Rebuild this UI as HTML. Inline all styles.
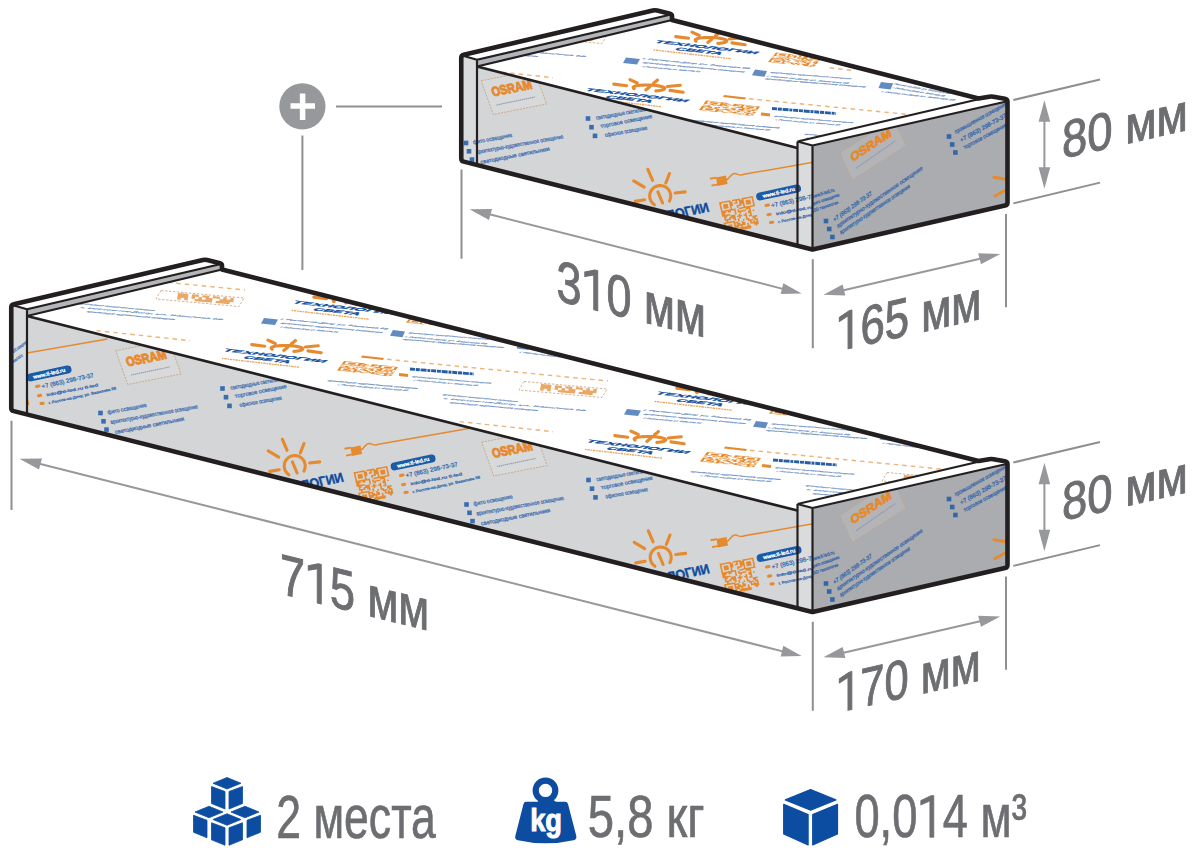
<!DOCTYPE html>
<html><head><meta charset="utf-8"><style>
html,body{margin:0;padding:0;background:#fff;width:1200px;height:856px;overflow:hidden}
svg{display:block}
</style></head><body>
<svg width="1200" height="856" viewBox="0 0 1200 856" font-family="Liberation Sans, sans-serif">
<defs><g id="ft"><polygon points="481.25,80.75 534.50,70.25 546.50,104.00 493.25,114.50" fill="#fff" fill-opacity="0.1" stroke="#c9a47e" stroke-width="0.9" stroke-dasharray="2 1.2" stroke-linejoin="round"/><text transform="matrix(1.0578,-0.2128,0.4061,1.3510,493.00,96.50)" font-size="9.5" font-weight="bold" fill="#e58a2f" stroke="#e58a2f" stroke-width="0.7" textLength="37.8" lengthAdjust="spacingAndGlyphs" opacity="1">OSRAM</text><path d="M496.50,105.00L535.00,97.00" stroke="#8d96a6" stroke-width="1.1" stroke-dasharray="1.5 0.5" opacity="0.9"/><rect x="585.70" y="116.20" width="4.6" height="4.6" fill="#1f5aa8" opacity="0.85"/><rect x="589.20" y="124.90" width="4.6" height="4.6" fill="#1f5aa8" opacity="0.85"/><rect x="592.70" y="133.60" width="4.6" height="4.6" fill="#1f5aa8" opacity="0.85"/><text transform="matrix(0.9846,-0.1746,0.2878,0.9577,596.61,119.77)" font-size="5.85" fill="#1f5aa8" opacity="0.82" textLength="55.86" lengthAdjust="spacingAndGlyphs" stroke="#1f5aa8" stroke-width="0.3">светодиодные светильники</text><text transform="matrix(0.9817,-0.1906,0.2878,0.9577,601.11,128.02)" font-size="5.85" fill="#1f5aa8" opacity="0.82" textLength="52.46" lengthAdjust="spacingAndGlyphs" stroke="#1f5aa8" stroke-width="0.3">торговое освещение</text><text transform="matrix(0.9844,-0.1758,0.2878,0.9577,605.61,137.02)" font-size="5.85" fill="#1f5aa8" opacity="0.82" textLength="42.66" lengthAdjust="spacingAndGlyphs" stroke="#1f5aa8" stroke-width="0.3">офисное освещение</text><rect x="463.70" y="140.70" width="4.6" height="4.6" fill="#1f5aa8" opacity="0.85"/><rect x="466.70" y="149.00" width="4.6" height="4.6" fill="#1f5aa8" opacity="0.85"/><rect x="469.70" y="157.30" width="4.6" height="4.6" fill="#1f5aa8" opacity="0.85"/><text transform="matrix(0.9820,-0.1888,0.2878,0.9577,473.61,144.27)" font-size="5.85" fill="#1f5aa8" opacity="0.82" textLength="39.71" lengthAdjust="spacingAndGlyphs" stroke="#1f5aa8" stroke-width="0.3">фито освещение</text><text transform="matrix(0.9840,-0.1781,0.2878,0.9577,476.61,154.02)" font-size="5.85" fill="#1f5aa8" opacity="0.82" textLength="88.41" lengthAdjust="spacingAndGlyphs" stroke="#1f5aa8" stroke-width="0.3">архитектурно-художественное освещение</text><text transform="matrix(0.9814,-0.1920,0.2878,0.9577,481.11,164.02)" font-size="5.85" fill="#1f5aa8" opacity="0.82" textLength="70.31" lengthAdjust="spacingAndGlyphs" stroke="#1f5aa8" stroke-width="0.3">светодиодные светильники</text><path d="M654.42,204.77 L653.01,203.65 L651.81,202.31 L650.86,200.79 L650.18,199.12 L649.79,197.37 L649.71,195.57 L649.94,193.79 L650.46,192.07 L651.28,190.47 L652.35,189.03 L653.66,187.79 L655.15,186.79 L656.80,186.07 L658.54,185.63 L660.33,185.50 L662.12,185.68 L663.86,186.16 L665.48,186.93 L666.95,187.96 L668.23,189.23 L669.26,190.70 L670.03,192.32 L670.52,194.05 L670.70,195.84 L670.57,197.63 L670.14,199.38 L669.42,201.03 M633.70,180.90L644.20,187.20 M647.90,169.30L652.60,180.40 M669.50,173.50L665.80,183.00 M675.20,193.00L685.20,191.90 M635.30,201.40L644.70,199.80 M657.90,191.90L662.60,203.00" fill="none" stroke="#e58a2f" stroke-width="3.1" stroke-linecap="round" stroke-linejoin="round"/><text transform="matrix(1.0578,-0.2128,0.4061,1.3510,626.50,228.30)" font-size="9.5" font-weight="bold" fill="#0f4c9c" stroke="#0f4c9c" stroke-width="0.3" textLength="79" lengthAdjust="spacingAndGlyphs" opacity="1">ТЕХНОЛОГИИ</text><polygon points="716.00,177.50 726.00,175.50 727.50,184.00 717.50,186.00" fill="#e58a2f"/><path d="M710,178.8L716.5,177.6M711.5,185.6L718,184.4" stroke="#e58a2f" stroke-width="1.9"/><path d="M726,180 C730,179 731,172.5 735,173.5 C739,174.5 740,176 744,174.3 L837,158" stroke="#e58a2f" stroke-width="1.5" fill="none"/><path d="M719.00,202.30L720.61,202.00L720.93,203.46L719.32,203.76ZM720.61,202.00L722.22,201.70L722.54,203.16L720.93,203.46ZM722.22,201.70L723.83,201.40L724.15,202.86L722.54,203.16ZM723.83,201.40L725.44,201.10L725.76,202.56L724.15,202.86ZM725.44,201.10L727.05,200.80L727.37,202.26L725.76,202.56ZM727.05,200.80L728.66,200.50L728.98,201.96L727.37,202.26ZM728.66,200.50L730.27,200.20L730.59,201.66L728.98,201.96ZM731.88,199.90L733.49,199.60L733.81,201.06L732.20,201.36ZM733.49,199.60L735.10,199.30L735.42,200.76L733.81,201.06ZM735.10,199.30L736.70,199.00L737.03,200.46L735.42,200.76ZM736.70,199.00L738.31,198.70L738.64,200.16L737.03,200.46ZM738.31,198.70L739.92,198.40L740.25,199.86L738.64,200.16ZM741.53,198.10L743.14,197.80L743.47,199.26L741.86,199.56ZM743.14,197.80L744.75,197.50L745.08,198.96L743.47,199.26ZM744.75,197.50L746.36,197.20L746.69,198.66L745.08,198.96ZM746.36,197.20L747.97,196.90L748.30,198.36L746.69,198.66ZM747.97,196.90L749.58,196.60L749.90,198.06L748.30,198.36ZM749.58,196.60L751.19,196.30L751.51,197.76L749.90,198.06ZM751.19,196.30L752.80,196.00L753.12,197.46L751.51,197.76ZM719.32,203.76L720.93,203.46L721.26,204.92L719.65,205.22ZM728.98,201.96L730.59,201.66L730.91,203.12L729.30,203.42ZM730.59,201.66L732.20,201.36L732.52,202.82L730.91,203.12ZM735.42,200.76L737.03,200.46L737.35,201.92L735.74,202.22ZM738.64,200.16L740.25,199.86L740.57,201.32L738.96,201.62ZM740.25,199.86L741.86,199.56L742.18,201.02L740.57,201.32ZM741.86,199.56L743.47,199.26L743.79,200.72L742.18,201.02ZM751.51,197.76L753.12,197.46L753.45,198.92L751.84,199.22ZM719.65,205.22L721.26,204.92L721.58,206.39L719.97,206.69ZM722.87,204.62L724.48,204.32L724.80,205.79L723.19,206.09ZM724.48,204.32L726.09,204.02L726.41,205.49L724.80,205.79ZM726.09,204.02L727.70,203.72L728.02,205.19L726.41,205.49ZM729.30,203.42L730.91,203.12L731.24,204.59L729.63,204.89ZM730.91,203.12L732.52,202.82L732.85,204.29L731.24,204.59ZM734.13,202.52L735.74,202.22L736.07,203.69L734.46,203.99ZM735.74,202.22L737.35,201.92L737.68,203.39L736.07,203.69ZM738.96,201.62L740.57,201.32L740.90,202.79L739.29,203.09ZM740.57,201.32L742.18,201.02L742.50,202.49L740.90,202.79ZM742.18,201.02L743.79,200.72L744.11,202.19L742.50,202.49ZM745.40,200.42L747.01,200.12L747.33,201.59L745.72,201.89ZM747.01,200.12L748.62,199.82L748.94,201.29L747.33,201.59ZM748.62,199.82L750.23,199.52L750.55,200.99L748.94,201.29ZM751.84,199.22L753.45,198.92L753.77,200.39L752.16,200.69ZM719.97,206.69L721.58,206.39L721.90,207.85L720.30,208.15ZM723.19,206.09L724.80,205.79L725.12,207.25L723.51,207.55ZM724.80,205.79L726.41,205.49L726.73,206.95L725.12,207.25ZM726.41,205.49L728.02,205.19L728.34,206.65L726.73,206.95ZM729.63,204.89L731.24,204.59L731.56,206.05L729.95,206.35ZM731.24,204.59L732.85,204.29L733.17,205.75L731.56,206.05ZM739.29,203.09L740.90,202.79L741.22,204.25L739.61,204.55ZM740.90,202.79L742.50,202.49L742.83,203.95L741.22,204.25ZM742.50,202.49L744.11,202.19L744.44,203.65L742.83,203.95ZM745.72,201.89L747.33,201.59L747.66,203.05L746.05,203.35ZM747.33,201.59L748.94,201.29L749.27,202.75L747.66,203.05ZM748.94,201.29L750.55,200.99L750.88,202.45L749.27,202.75ZM752.16,200.69L753.77,200.39L754.10,201.85L752.49,202.15ZM720.30,208.15L721.90,207.85L722.23,209.31L720.62,209.61ZM723.51,207.55L725.12,207.25L725.45,208.71L723.84,209.01ZM725.12,207.25L726.73,206.95L727.06,208.41L725.45,208.71ZM726.73,206.95L728.34,206.65L728.67,208.11L727.06,208.41ZM729.95,206.35L731.56,206.05L731.89,207.51L730.28,207.81ZM736.39,205.15L738.00,204.85L738.32,206.31L736.71,206.61ZM738.00,204.85L739.61,204.55L739.93,206.01L738.32,206.31ZM739.61,204.55L741.22,204.25L741.54,205.71L739.93,206.01ZM742.83,203.95L744.44,203.65L744.76,205.11L743.15,205.41ZM746.05,203.35L747.66,203.05L747.98,204.51L746.37,204.81ZM747.66,203.05L749.27,202.75L749.59,204.21L747.98,204.51ZM749.27,202.75L750.88,202.45L751.20,203.91L749.59,204.21ZM752.49,202.15L754.10,201.85L754.42,203.31L752.81,203.61ZM720.62,209.61L722.23,209.31L722.55,210.77L720.94,211.07ZM730.28,207.81L731.89,207.51L732.21,208.97L730.60,209.27ZM736.71,206.61L738.32,206.31L738.65,207.77L737.04,208.07ZM743.15,205.41L744.76,205.11L745.09,206.57L743.48,206.87ZM752.81,203.61L754.42,203.31L754.74,204.77L753.13,205.07ZM720.94,211.07L722.55,210.77L722.88,212.23L721.27,212.53ZM722.55,210.77L724.16,210.47L724.49,211.93L722.88,212.23ZM724.16,210.47L725.77,210.17L726.10,211.63L724.49,211.93ZM725.77,210.17L727.38,209.87L727.70,211.33L726.10,211.63ZM727.38,209.87L728.99,209.57L729.31,211.03L727.70,211.33ZM728.99,209.57L730.60,209.27L730.92,210.73L729.31,211.03ZM730.60,209.27L732.21,208.97L732.53,210.43L730.92,210.73ZM732.21,208.97L733.82,208.67L734.14,210.13L732.53,210.43ZM733.82,208.67L735.43,208.37L735.75,209.83L734.14,210.13ZM738.65,207.77L740.26,207.47L740.58,208.93L738.97,209.23ZM740.26,207.47L741.87,207.17L742.19,208.63L740.58,208.93ZM741.87,207.17L743.48,206.87L743.80,208.33L742.19,208.63ZM743.48,206.87L745.09,206.57L745.41,208.03L743.80,208.33ZM745.09,206.57L746.70,206.27L747.02,207.73L745.41,208.03ZM746.70,206.27L748.30,205.97L748.63,207.43L747.02,207.73ZM748.30,205.97L749.91,205.67L750.24,207.13L748.63,207.43ZM749.91,205.67L751.52,205.37L751.85,206.83L750.24,207.13ZM751.52,205.37L753.13,205.07L753.46,206.53L751.85,206.83ZM753.13,205.07L754.74,204.77L755.07,206.23L753.46,206.53ZM721.27,212.53L722.88,212.23L723.20,213.70L721.59,214.00ZM722.88,212.23L724.49,211.93L724.81,213.40L723.20,213.70ZM724.49,211.93L726.10,211.63L726.42,213.10L724.81,213.40ZM727.70,211.33L729.31,211.03L729.64,212.50L728.03,212.80ZM729.31,211.03L730.92,210.73L731.25,212.20L729.64,212.50ZM734.14,210.13L735.75,209.83L736.08,211.30L734.47,211.60ZM737.36,209.53L738.97,209.23L739.30,210.70L737.69,211.00ZM745.41,208.03L747.02,207.73L747.34,209.20L745.73,209.50ZM747.02,207.73L748.63,207.43L748.95,208.90L747.34,209.20ZM748.63,207.43L750.24,207.13L750.56,208.60L748.95,208.90ZM721.59,214.00L723.20,213.70L723.52,215.16L721.91,215.46ZM723.20,213.70L724.81,213.40L725.13,214.86L723.52,215.16ZM734.47,211.60L736.08,211.30L736.40,212.76L734.79,213.06ZM737.69,211.00L739.30,210.70L739.62,212.16L738.01,212.46ZM739.30,210.70L740.90,210.40L741.23,211.86L739.62,212.16ZM740.90,210.40L742.51,210.10L742.84,211.56L741.23,211.86ZM742.51,210.10L744.12,209.80L744.45,211.26L742.84,211.56ZM744.12,209.80L745.73,209.50L746.06,210.96L744.45,211.26ZM748.95,208.90L750.56,208.60L750.89,210.06L749.28,210.36ZM721.91,215.46L723.52,215.16L723.85,216.62L722.24,216.92ZM723.52,215.16L725.13,214.86L725.46,216.32L723.85,216.62ZM725.13,214.86L726.74,214.56L727.07,216.02L725.46,216.32ZM726.74,214.56L728.35,214.26L728.68,215.72L727.07,216.02ZM728.35,214.26L729.96,213.96L730.29,215.42L728.68,215.72ZM734.79,213.06L736.40,212.76L736.72,214.22L735.11,214.52ZM739.62,212.16L741.23,211.86L741.55,213.32L739.94,213.62ZM747.67,210.66L749.28,210.36L749.60,211.82L747.99,212.12ZM749.28,210.36L750.89,210.06L751.21,211.52L749.60,211.82ZM752.50,209.76L754.10,209.46L754.43,210.92L752.82,211.22ZM723.85,216.62L725.46,216.32L725.78,217.78L724.17,218.08ZM725.46,216.32L727.07,216.02L727.39,217.48L725.78,217.78ZM730.29,215.42L731.90,215.12L732.22,216.58L730.61,216.88ZM731.90,215.12L733.50,214.82L733.83,216.28L732.22,216.58ZM733.50,214.82L735.11,214.52L735.44,215.98L733.83,216.28ZM738.33,213.92L739.94,213.62L740.27,215.08L738.66,215.38ZM744.77,212.72L746.38,212.42L746.70,213.88L745.10,214.18ZM747.99,212.12L749.60,211.82L749.92,213.28L748.31,213.58ZM749.60,211.82L751.21,211.52L751.53,212.98L749.92,213.28ZM724.17,218.08L725.78,217.78L726.10,219.24L724.50,219.54ZM729.00,217.18L730.61,216.88L730.93,218.34L729.32,218.64ZM730.61,216.88L732.22,216.58L732.54,218.04L730.93,218.34ZM732.22,216.58L733.83,216.28L734.15,217.74L732.54,218.04ZM733.83,216.28L735.44,215.98L735.76,217.44L734.15,217.74ZM737.05,215.68L738.66,215.38L738.98,216.84L737.37,217.14ZM738.66,215.38L740.27,215.08L740.59,216.54L738.98,216.84ZM740.27,215.08L741.88,214.78L742.20,216.24L740.59,216.54ZM743.49,214.48L745.10,214.18L745.42,215.64L743.81,215.94ZM745.10,214.18L746.70,213.88L747.03,215.34L745.42,215.64ZM749.92,213.28L751.53,212.98L751.86,214.44L750.25,214.74ZM724.50,219.54L726.10,219.24L726.43,220.70L724.82,221.00ZM726.10,219.24L727.71,218.94L728.04,220.40L726.43,220.70ZM727.71,218.94L729.32,218.64L729.65,220.10L728.04,220.40ZM729.32,218.64L730.93,218.34L731.26,219.80L729.65,220.10ZM732.54,218.04L734.15,217.74L734.48,219.20L732.87,219.50ZM734.15,217.74L735.76,217.44L736.09,218.90L734.48,219.20ZM738.98,216.84L740.59,216.54L740.91,218.00L739.30,218.30ZM745.42,215.64L747.03,215.34L747.35,216.80L745.74,217.10ZM748.64,215.04L750.25,214.74L750.57,216.20L748.96,216.50ZM750.25,214.74L751.86,214.44L752.18,215.90L750.57,216.20ZM726.43,220.70L728.04,220.40L728.36,221.87L726.75,222.17ZM734.48,219.20L736.09,218.90L736.41,220.37L734.80,220.67ZM737.70,218.60L739.30,218.30L739.63,219.77L738.02,220.07ZM745.74,217.10L747.35,216.80L747.68,218.27L746.07,218.57ZM752.18,215.90L753.79,215.60L754.11,217.07L752.50,217.37ZM753.79,215.60L755.40,215.30L755.72,216.77L754.11,217.07ZM755.40,215.30L757.01,215.00L757.33,216.47L755.72,216.77ZM723.53,222.77L725.14,222.47L725.47,223.93L723.86,224.23ZM725.14,222.47L726.75,222.17L727.08,223.63L725.47,223.93ZM726.75,222.17L728.36,221.87L728.69,223.33L727.08,223.63ZM728.36,221.87L729.97,221.57L730.30,223.03L728.69,223.33ZM729.97,221.57L731.58,221.27L731.90,222.73L730.30,223.03ZM731.58,221.27L733.19,220.97L733.51,222.43L731.90,222.73ZM733.19,220.97L734.80,220.67L735.12,222.13L733.51,222.43ZM738.02,220.07L739.63,219.77L739.95,221.23L738.34,221.53ZM742.85,219.17L744.46,218.87L744.78,220.33L743.17,220.63ZM746.07,218.57L747.68,218.27L748.00,219.73L746.39,220.03ZM747.68,218.27L749.29,217.97L749.61,219.43L748.00,219.73ZM752.50,217.37L754.11,217.07L754.44,218.53L752.83,218.83ZM754.11,217.07L755.72,216.77L756.05,218.23L754.44,218.53ZM723.86,224.23L725.47,223.93L725.79,225.39L724.18,225.69ZM733.51,222.43L735.12,222.13L735.45,223.59L733.84,223.89ZM735.12,222.13L736.73,221.83L737.06,223.29L735.45,223.59ZM736.73,221.83L738.34,221.53L738.67,222.99L737.06,223.29ZM741.56,220.93L743.17,220.63L743.50,222.09L741.89,222.39ZM748.00,219.73L749.61,219.43L749.93,220.89L748.32,221.19ZM749.61,219.43L751.22,219.13L751.54,220.59L749.93,220.89ZM751.22,219.13L752.83,218.83L753.15,220.29L751.54,220.59ZM754.44,218.53L756.05,218.23L756.37,219.69L754.76,219.99ZM756.05,218.23L757.66,217.93L757.98,219.39L756.37,219.69ZM724.18,225.69L725.79,225.39L726.11,226.85L724.50,227.15ZM727.40,225.09L729.01,224.79L729.33,226.25L727.72,226.55ZM729.01,224.79L730.62,224.49L730.94,225.95L729.33,226.25ZM730.62,224.49L732.23,224.19L732.55,225.65L730.94,225.95ZM733.84,223.89L735.45,223.59L735.77,225.05L734.16,225.35ZM737.06,223.29L738.67,222.99L738.99,224.45L737.38,224.75ZM738.67,222.99L740.28,222.69L740.60,224.15L738.99,224.45ZM741.89,222.39L743.50,222.09L743.82,223.55L742.21,223.85ZM743.50,222.09L745.10,221.79L745.43,223.25L743.82,223.55ZM749.93,220.89L751.54,220.59L751.87,222.05L750.26,222.35ZM753.15,220.29L754.76,219.99L755.09,221.45L753.48,221.75ZM756.37,219.69L757.98,219.39L758.30,220.85L756.70,221.15ZM724.50,227.15L726.11,226.85L726.44,228.31L724.83,228.61ZM727.72,226.55L729.33,226.25L729.66,227.71L728.05,228.01ZM729.33,226.25L730.94,225.95L731.27,227.41L729.66,227.71ZM730.94,225.95L732.55,225.65L732.88,227.11L731.27,227.41ZM734.16,225.35L735.77,225.05L736.10,226.51L734.49,226.81ZM735.77,225.05L737.38,224.75L737.70,226.21L736.10,226.51ZM737.38,224.75L738.99,224.45L739.31,225.91L737.70,226.21ZM738.99,224.45L740.60,224.15L740.92,225.61L739.31,225.91ZM740.60,224.15L742.21,223.85L742.53,225.31L740.92,225.61ZM742.21,223.85L743.82,223.55L744.14,225.01L742.53,225.31ZM743.82,223.55L745.43,223.25L745.75,224.71L744.14,225.01ZM747.04,222.95L748.65,222.65L748.97,224.11L747.36,224.41ZM750.26,222.35L751.87,222.05L752.19,223.51L750.58,223.81ZM751.87,222.05L753.48,221.75L753.80,223.21L752.19,223.51ZM753.48,221.75L755.09,221.45L755.41,222.91L753.80,223.21ZM755.09,221.45L756.70,221.15L757.02,222.61L755.41,222.91ZM756.70,221.15L758.30,220.85L758.63,222.31L757.02,222.61ZM724.83,228.61L726.44,228.31L726.76,229.78L725.15,230.08ZM728.05,228.01L729.66,227.71L729.98,229.18L728.37,229.48ZM729.66,227.71L731.27,227.41L731.59,228.88L729.98,229.18ZM731.27,227.41L732.88,227.11L733.20,228.58L731.59,228.88ZM734.49,226.81L736.10,226.51L736.42,227.98L734.81,228.28ZM736.10,226.51L737.70,226.21L738.03,227.68L736.42,227.98ZM737.70,226.21L739.31,225.91L739.64,227.38L738.03,227.68ZM740.92,225.61L742.53,225.31L742.86,226.78L741.25,227.08ZM747.36,224.41L748.97,224.11L749.30,225.58L747.69,225.88ZM753.80,223.21L755.41,222.91L755.73,224.38L754.12,224.68ZM755.41,222.91L757.02,222.61L757.34,224.08L755.73,224.38ZM757.02,222.61L758.63,222.31L758.95,223.78L757.34,224.08ZM725.15,230.08L726.76,229.78L727.09,231.24L725.48,231.54ZM734.81,228.28L736.42,227.98L736.74,229.44L735.13,229.74ZM739.64,227.38L741.25,227.08L741.57,228.54L739.96,228.84ZM741.25,227.08L742.86,226.78L743.18,228.24L741.57,228.54ZM742.86,226.78L744.47,226.48L744.79,227.94L743.18,228.24ZM744.47,226.48L746.08,226.18L746.40,227.64L744.79,227.94ZM746.08,226.18L747.69,225.88L748.01,227.34L746.40,227.64ZM747.69,225.88L749.30,225.58L749.62,227.04L748.01,227.34ZM749.30,225.58L750.90,225.28L751.23,226.74L749.62,227.04ZM755.73,224.38L757.34,224.08L757.67,225.54L756.06,225.84ZM725.48,231.54L727.09,231.24L727.41,232.70L725.80,233.00ZM727.09,231.24L728.70,230.94L729.02,232.40L727.41,232.70ZM728.70,230.94L730.30,230.64L730.63,232.10L729.02,232.40ZM730.30,230.64L731.91,230.34L732.24,231.80L730.63,232.10ZM731.91,230.34L733.52,230.04L733.85,231.50L732.24,231.80ZM733.52,230.04L735.13,229.74L735.46,231.20L733.85,231.50ZM735.13,229.74L736.74,229.44L737.07,230.90L735.46,231.20ZM738.35,229.14L739.96,228.84L740.29,230.30L738.68,230.60ZM739.96,228.84L741.57,228.54L741.90,230.00L740.29,230.30ZM741.57,228.54L743.18,228.24L743.50,229.70L741.90,230.00ZM743.18,228.24L744.79,227.94L745.11,229.40L743.50,229.70ZM744.79,227.94L746.40,227.64L746.72,229.10L745.11,229.40ZM746.40,227.64L748.01,227.34L748.33,228.80L746.72,229.10ZM748.01,227.34L749.62,227.04L749.94,228.50L748.33,228.80ZM749.62,227.04L751.23,226.74L751.55,228.20L749.94,228.50Z" fill="#e58a2f"/><path d="M760.20,196.40L797.00,188.50" stroke="#1d5aa8" stroke-width="8" stroke-linecap="round"/><text transform="matrix(0.9760,-0.2179,0.2878,0.9577,763.24,197.78)" font-size="5.17" fill="#fff" opacity="1" textLength="32.58" lengthAdjust="spacingAndGlyphs" stroke="#fff" stroke-width="0.3">www.tl-led.ru</text><path d="M766,205.5 l2.5,-0.5 M768,214.7 l2.2,-0.4 M770.5,222.6 l2.2,-0.4" stroke="#e58a2f" stroke-width="3" stroke-linecap="round"/><text transform="matrix(0.9756,-0.2195,0.2878,0.9577,771.63,207.59)" font-size="6.08" fill="#1f5aa8" opacity="0.82" textLength="53.30" lengthAdjust="spacingAndGlyphs" stroke="#1f5aa8" stroke-width="0.3">+7 (863) 298-73-37</text><text transform="matrix(0.9809,-0.1943,0.2878,0.9577,776.40,215.32)" font-size="3.82" fill="#1f5aa8" opacity="0.82" textLength="52.50" lengthAdjust="spacingAndGlyphs" stroke="#1f5aa8" stroke-width="0.3">info@tl-led.ru   tl-led</text><text transform="matrix(0.9762,-0.2169,0.2878,0.9577,778.40,223.32)" font-size="3.82" fill="#1f5aa8" opacity="0.82" textLength="69.15" lengthAdjust="spacingAndGlyphs" stroke="#1f5aa8" stroke-width="0.3">г. Ростов-на-Дону, ул. Вавилова 68</text></g><g id="tt"><path d="M696.19,41.13 L695.45,40.62 L695.16,40.10 L695.34,39.60 L695.98,39.13 L697.06,38.69 L698.55,38.31 L700.40,37.99 L702.57,37.75 L704.98,37.58 L707.57,37.50 L710.25,37.51 L712.96,37.61 L715.62,37.79 L718.13,38.05 L720.44,38.39 L722.47,38.78 L724.17,39.23 L725.48,39.71 L726.36,40.21 L726.79,40.73 L726.77,41.24 L726.27,41.72 L725.34,42.17 L723.98,42.57 L722.24,42.91 L720.17,43.18 L717.83,43.37 M691.94,32.11L699.21,35.50 M719.55,32.59L715.49,35.79 M742.25,37.78L729.33,38.97 M731.99,42.90L745.19,44.68 M675.79,36.61L688.69,38.17 M711.81,39.20L707.75,42.41" fill="none" stroke="#e58a2f" stroke-width="3.1" stroke-linecap="round" stroke-linejoin="round"/><path d="M634.19,88.63 L633.45,88.12 L633.16,87.60 L633.34,87.10 L633.98,86.63 L635.06,86.19 L636.55,85.81 L638.40,85.49 L640.57,85.25 L642.98,85.08 L645.57,85.00 L648.25,85.01 L650.96,85.11 L653.62,85.29 L656.13,85.55 L658.44,85.89 L660.47,86.28 L662.17,86.73 L663.48,87.21 L664.36,87.71 L664.79,88.23 L664.77,88.74 L664.27,89.22 L663.34,89.67 L661.98,90.07 L660.24,90.41 L658.17,90.68 L655.83,90.87 M629.94,79.61L637.21,83.00 M657.55,80.09L653.49,83.29 M680.25,85.28L667.33,86.47 M669.99,90.40L683.19,92.18 M613.79,84.11L626.69,85.67 M649.81,86.70L645.75,89.91" fill="none" stroke="#e58a2f" stroke-width="3.1" stroke-linecap="round" stroke-linejoin="round"/><text transform="matrix(1.4813,0.1688,-0.6973,0.3569,653.60,42.50)" font-size="9.5" font-weight="bold" fill="#0f4c9c" stroke="#0f4c9c" stroke-width="0.5" textLength="69" lengthAdjust="spacingAndGlyphs" opacity="1">ТЕХНОЛОГИИ</text><text transform="matrix(1.4813,0.1688,-0.6973,0.3569,674.08,49.63)" font-size="9.5" font-weight="bold" fill="#0f4c9c" stroke="#0f4c9c" stroke-width="0.5" textLength="31" lengthAdjust="spacingAndGlyphs" opacity="1">СВЕТА</text><path d="M653.60,49.92L730.63,58.69" stroke="#e58a2f" stroke-width="1.3" stroke-dasharray="1.5 0.8 2.5 0.8" opacity="0.8"/><text transform="matrix(1.4813,0.1688,-0.6973,0.3569,584.00,90.50)" font-size="9.5" font-weight="bold" fill="#0f4c9c" stroke="#0f4c9c" stroke-width="0.5" textLength="69" lengthAdjust="spacingAndGlyphs" opacity="1">ТЕХНОЛОГИИ</text><text transform="matrix(1.4813,0.1688,-0.6973,0.3569,604.48,97.63)" font-size="9.5" font-weight="bold" fill="#0f4c9c" stroke="#0f4c9c" stroke-width="0.5" textLength="31" lengthAdjust="spacingAndGlyphs" opacity="1">СВЕТА</text><path d="M584.00,97.92L661.03,106.69" stroke="#e58a2f" stroke-width="1.3" stroke-dasharray="1.5 0.8 2.5 0.8" opacity="0.8"/><polygon points="626.00,57.50 640.00,59.00 637.00,64.50 623.00,63.00" fill="#1f5aa8" opacity="0.7"/><text transform="matrix(0.9957,0.0931,-0.8902,0.4557,641.92,59.05)" font-size="3.38" fill="#1f5aa8" opacity="0.65" textLength="107.47" lengthAdjust="spacingAndGlyphs" stroke="#1f5aa8" stroke-width="0.3">г. Ростов-на-Дону, ул. Вавилова 68</text><text transform="matrix(0.9957,0.0927,-0.8902,0.4557,641.92,63.05)" font-size="3.38" fill="#1f5aa8" opacity="0.65" textLength="102.44" lengthAdjust="spacingAndGlyphs" stroke="#1f5aa8" stroke-width="0.3">архитектурно-художественное освещение</text><text transform="matrix(0.9962,0.0874,-0.8902,0.4557,641.92,67.05)" font-size="3.38" fill="#1f5aa8" opacity="0.65" textLength="57.22" lengthAdjust="spacingAndGlyphs" stroke="#1f5aa8" stroke-width="0.3">г. Ростов-на-Дону, ул. Вавилова 68</text><path d="M776.00,52.50L778.19,52.74L777.81,53.19L775.62,52.95ZM778.19,52.74L780.38,52.98L780.00,53.43L777.81,53.19ZM780.38,52.98L782.57,53.21L782.19,53.67L780.00,53.43ZM782.57,53.21L784.76,53.45L784.38,53.90L782.19,53.67ZM784.76,53.45L786.95,53.69L786.57,54.14L784.38,53.90ZM786.95,53.69L789.14,53.93L788.76,54.38L786.57,54.14ZM789.14,53.93L791.33,54.17L790.95,54.62L788.76,54.38ZM797.90,54.88L800.10,55.12L799.71,55.57L797.52,55.33ZM800.10,55.12L802.29,55.36L801.90,55.81L799.71,55.57ZM802.29,55.36L804.48,55.60L804.10,56.05L801.90,55.81ZM806.67,55.83L808.86,56.07L808.48,56.52L806.29,56.29ZM808.86,56.07L811.05,56.31L810.67,56.76L808.48,56.52ZM811.05,56.31L813.24,56.55L812.86,57.00L810.67,56.76ZM813.24,56.55L815.43,56.79L815.05,57.24L812.86,57.00ZM815.43,56.79L817.62,57.02L817.24,57.48L815.05,57.24ZM817.62,57.02L819.81,57.26L819.43,57.71L817.24,57.48ZM819.81,57.26L822.00,57.50L821.62,57.95L819.43,57.71ZM775.62,52.95L777.81,53.19L777.43,53.64L775.24,53.40ZM788.76,54.38L790.95,54.62L790.57,55.07L788.38,54.83ZM790.95,54.62L793.14,54.86L792.76,55.31L790.57,55.07ZM799.71,55.57L801.90,55.81L801.52,56.26L799.33,56.02ZM804.10,56.05L806.29,56.29L805.90,56.74L803.71,56.50ZM806.29,56.29L808.48,56.52L808.10,56.98L805.90,56.74ZM819.43,57.71L821.62,57.95L821.24,58.40L819.05,58.17ZM775.24,53.40L777.43,53.64L777.05,54.10L774.86,53.86ZM779.62,53.88L781.81,54.12L781.43,54.57L779.24,54.33ZM781.81,54.12L784.00,54.36L783.62,54.81L781.43,54.57ZM784.00,54.36L786.19,54.60L785.81,55.05L783.62,54.81ZM788.38,54.83L790.57,55.07L790.19,55.52L788.00,55.29ZM792.76,55.31L794.95,55.55L794.57,56.00L792.38,55.76ZM794.95,55.55L797.14,55.79L796.76,56.24L794.57,56.00ZM799.33,56.02L801.52,56.26L801.14,56.71L798.95,56.48ZM803.71,56.50L805.90,56.74L805.52,57.19L803.33,56.95ZM805.90,56.74L808.10,56.98L807.71,57.43L805.52,57.19ZM810.29,57.21L812.48,57.45L812.10,57.90L809.90,57.67ZM812.48,57.45L814.67,57.69L814.29,58.14L812.10,57.90ZM814.67,57.69L816.86,57.93L816.48,58.38L814.29,58.14ZM819.05,58.17L821.24,58.40L820.86,58.86L818.67,58.62ZM774.86,53.86L777.05,54.10L776.67,54.55L774.48,54.31ZM779.24,54.33L781.43,54.57L781.05,55.02L778.86,54.79ZM781.43,54.57L783.62,54.81L783.24,55.26L781.05,55.02ZM783.62,54.81L785.81,55.05L785.43,55.50L783.24,55.26ZM788.00,55.29L790.19,55.52L789.81,55.98L787.62,55.74ZM792.38,55.76L794.57,56.00L794.19,56.45L792.00,56.21ZM794.57,56.00L796.76,56.24L796.38,56.69L794.19,56.45ZM798.95,56.48L801.14,56.71L800.76,57.17L798.57,56.93ZM803.33,56.95L805.52,57.19L805.14,57.64L802.95,57.40ZM805.52,57.19L807.71,57.43L807.33,57.88L805.14,57.64ZM809.90,57.67L812.10,57.90L811.71,58.36L809.52,58.12ZM812.10,57.90L814.29,58.14L813.90,58.60L811.71,58.36ZM814.29,58.14L816.48,58.38L816.10,58.83L813.90,58.60ZM818.67,58.62L820.86,58.86L820.48,59.31L818.29,59.07ZM774.48,54.31L776.67,54.55L776.29,55.00L774.10,54.76ZM778.86,54.79L781.05,55.02L780.67,55.48L778.48,55.24ZM781.05,55.02L783.24,55.26L782.86,55.71L780.67,55.48ZM783.24,55.26L785.43,55.50L785.05,55.95L782.86,55.71ZM787.62,55.74L789.81,55.98L789.43,56.43L787.24,56.19ZM789.81,55.98L792.00,56.21L791.62,56.67L789.43,56.43ZM794.19,56.45L796.38,56.69L796.00,57.14L793.81,56.90ZM796.38,56.69L798.57,56.93L798.19,57.38L796.00,57.14ZM798.57,56.93L800.76,57.17L800.38,57.62L798.19,57.38ZM800.76,57.17L802.95,57.40L802.57,57.86L800.38,57.62ZM805.14,57.64L807.33,57.88L806.95,58.33L804.76,58.10ZM809.52,58.12L811.71,58.36L811.33,58.81L809.14,58.57ZM811.71,58.36L813.90,58.60L813.52,59.05L811.33,58.81ZM813.90,58.60L816.10,58.83L815.71,59.29L813.52,59.05ZM818.29,59.07L820.48,59.31L820.10,59.76L817.90,59.52ZM774.10,54.76L776.29,55.00L775.90,55.45L773.71,55.21ZM787.24,56.19L789.43,56.43L789.05,56.88L786.86,56.64ZM793.81,56.90L796.00,57.14L795.62,57.60L793.43,57.36ZM802.57,57.86L804.76,58.10L804.38,58.55L802.19,58.31ZM804.76,58.10L806.95,58.33L806.57,58.79L804.38,58.55ZM817.90,59.52L820.10,59.76L819.71,60.21L817.52,59.98ZM773.71,55.21L775.90,55.45L775.52,55.90L773.33,55.67ZM775.90,55.45L778.10,55.69L777.71,56.14L775.52,55.90ZM778.10,55.69L780.29,55.93L779.90,56.38L777.71,56.14ZM780.29,55.93L782.48,56.17L782.10,56.62L779.90,56.38ZM782.48,56.17L784.67,56.40L784.29,56.86L782.10,56.62ZM784.67,56.40L786.86,56.64L786.48,57.10L784.29,56.86ZM786.86,56.64L789.05,56.88L788.67,57.33L786.48,57.10ZM793.43,57.36L795.62,57.60L795.24,58.05L793.05,57.81ZM797.81,57.83L800.00,58.07L799.62,58.52L797.43,58.29ZM800.00,58.07L802.19,58.31L801.81,58.76L799.62,58.52ZM802.19,58.31L804.38,58.55L804.00,59.00L801.81,58.76ZM804.38,58.55L806.57,58.79L806.19,59.24L804.00,59.00ZM806.57,58.79L808.76,59.02L808.38,59.48L806.19,59.24ZM808.76,59.02L810.95,59.26L810.57,59.71L808.38,59.48ZM810.95,59.26L813.14,59.50L812.76,59.95L810.57,59.71ZM813.14,59.50L815.33,59.74L814.95,60.19L812.76,59.95ZM815.33,59.74L817.52,59.98L817.14,60.43L814.95,60.19ZM817.52,59.98L819.71,60.21L819.33,60.67L817.14,60.43ZM784.29,56.86L786.48,57.10L786.10,57.55L783.90,57.31ZM786.48,57.10L788.67,57.33L788.29,57.79L786.10,57.55ZM788.67,57.33L790.86,57.57L790.48,58.02L788.29,57.79ZM797.43,58.29L799.62,58.52L799.24,58.98L797.05,58.74ZM801.81,58.76L804.00,59.00L803.62,59.45L801.43,59.21ZM806.19,59.24L808.38,59.48L808.00,59.93L805.81,59.69ZM810.57,59.71L812.76,59.95L812.38,60.40L810.19,60.17ZM781.71,57.07L783.90,57.31L783.52,57.76L781.33,57.52ZM790.48,58.02L792.67,58.26L792.29,58.71L790.10,58.48ZM801.43,59.21L803.62,59.45L803.24,59.90L801.05,59.67ZM808.00,59.93L810.19,60.17L809.81,60.62L807.62,60.38ZM772.57,56.57L774.76,56.81L774.38,57.26L772.19,57.02ZM779.14,57.29L781.33,57.52L780.95,57.98L778.76,57.74ZM783.52,57.76L785.71,58.00L785.33,58.45L783.14,58.21ZM787.90,58.24L790.10,58.48L789.71,58.93L787.52,58.69ZM792.29,58.71L794.48,58.95L794.10,59.40L791.90,59.17ZM794.48,58.95L796.67,59.19L796.29,59.64L794.10,59.40ZM798.86,59.43L801.05,59.67L800.67,60.12L798.48,59.88ZM805.43,60.14L807.62,60.38L807.24,60.83L805.05,60.60ZM807.62,60.38L809.81,60.62L809.43,61.07L807.24,60.83ZM809.81,60.62L812.00,60.86L811.62,61.31L809.43,61.07ZM814.19,61.10L816.38,61.33L816.00,61.79L813.81,61.55ZM816.38,61.33L818.57,61.57L818.19,62.02L816.00,61.79ZM776.57,57.50L778.76,57.74L778.38,58.19L776.19,57.95ZM780.95,57.98L783.14,58.21L782.76,58.67L780.57,58.43ZM785.33,58.45L787.52,58.69L787.14,59.14L784.95,58.90ZM787.52,58.69L789.71,58.93L789.33,59.38L787.14,59.14ZM796.29,59.64L798.48,59.88L798.10,60.33L795.90,60.10ZM800.67,60.12L802.86,60.36L802.48,60.81L800.29,60.57ZM802.86,60.36L805.05,60.60L804.67,61.05L802.48,60.81ZM805.05,60.60L807.24,60.83L806.86,61.29L804.67,61.05ZM816.00,61.79L818.19,62.02L817.81,62.48L815.62,62.24ZM771.81,57.48L774.00,57.71L773.62,58.17L771.43,57.93ZM774.00,57.71L776.19,57.95L775.81,58.40L773.62,58.17ZM776.19,57.95L778.38,58.19L778.00,58.64L775.81,58.40ZM778.38,58.19L780.57,58.43L780.19,58.88L778.00,58.64ZM780.57,58.43L782.76,58.67L782.38,59.12L780.19,58.88ZM784.95,58.90L787.14,59.14L786.76,59.60L784.57,59.36ZM787.14,59.14L789.33,59.38L788.95,59.83L786.76,59.60ZM793.71,59.86L795.90,60.10L795.52,60.55L793.33,60.31ZM795.90,60.10L798.10,60.33L797.71,60.79L795.52,60.55ZM798.10,60.33L800.29,60.57L799.90,61.02L797.71,60.79ZM802.48,60.81L804.67,61.05L804.29,61.50L802.10,61.26ZM809.05,61.52L811.24,61.76L810.86,62.21L808.67,61.98ZM813.43,62.00L815.62,62.24L815.24,62.69L813.05,62.45ZM815.62,62.24L817.81,62.48L817.43,62.93L815.24,62.69ZM771.43,57.93L773.62,58.17L773.24,58.62L771.05,58.38ZM773.62,58.17L775.81,58.40L775.43,58.86L773.24,58.62ZM778.00,58.64L780.19,58.88L779.81,59.33L777.62,59.10ZM780.19,58.88L782.38,59.12L782.00,59.57L779.81,59.33ZM782.38,59.12L784.57,59.36L784.19,59.81L782.00,59.57ZM786.76,59.60L788.95,59.83L788.57,60.29L786.38,60.05ZM799.90,61.02L802.10,61.26L801.71,61.71L799.52,61.48ZM802.10,61.26L804.29,61.50L803.90,61.95L801.71,61.71ZM804.29,61.50L806.48,61.74L806.10,62.19L803.90,61.95ZM806.48,61.74L808.67,61.98L808.29,62.43L806.10,62.19ZM808.67,61.98L810.86,62.21L810.48,62.67L808.29,62.43ZM813.05,62.45L815.24,62.69L814.86,63.14L812.67,62.90ZM815.24,62.69L817.43,62.93L817.05,63.38L814.86,63.14ZM771.05,58.38L773.24,58.62L772.86,59.07L770.67,58.83ZM782.00,59.57L784.19,59.81L783.81,60.26L781.62,60.02ZM788.57,60.29L790.76,60.52L790.38,60.98L788.19,60.74ZM795.14,61.00L797.33,61.24L796.95,61.69L794.76,61.45ZM797.33,61.24L799.52,61.48L799.14,61.93L796.95,61.69ZM803.90,61.95L806.10,62.19L805.71,62.64L803.52,62.40ZM814.86,63.14L817.05,63.38L816.67,63.83L814.48,63.60ZM770.67,58.83L772.86,59.07L772.48,59.52L770.29,59.29ZM772.86,59.07L775.05,59.31L774.67,59.76L772.48,59.52ZM775.05,59.31L777.24,59.55L776.86,60.00L774.67,59.76ZM777.24,59.55L779.43,59.79L779.05,60.24L776.86,60.00ZM779.43,59.79L781.62,60.02L781.24,60.48L779.05,60.24ZM781.62,60.02L783.81,60.26L783.43,60.71L781.24,60.48ZM783.81,60.26L786.00,60.50L785.62,60.95L783.43,60.71ZM796.95,61.69L799.14,61.93L798.76,62.38L796.57,62.14ZM803.52,62.40L805.71,62.64L805.33,63.10L803.14,62.86ZM805.71,62.64L807.90,62.88L807.52,63.33L805.33,63.10ZM807.90,62.88L810.10,63.12L809.71,63.57L807.52,63.33ZM814.48,63.60L816.67,63.83L816.29,64.29L814.10,64.05ZM770.29,59.29L772.48,59.52L772.10,59.98L769.90,59.74ZM783.43,60.71L785.62,60.95L785.24,61.40L783.05,61.17ZM785.62,60.95L787.81,61.19L787.43,61.64L785.24,61.40ZM787.81,61.19L790.00,61.43L789.62,61.88L787.43,61.64ZM800.95,62.62L803.14,62.86L802.76,63.31L800.57,63.07ZM805.33,63.10L807.52,63.33L807.14,63.79L804.95,63.55ZM807.52,63.33L809.71,63.57L809.33,64.02L807.14,63.79ZM811.90,63.81L814.10,64.05L813.71,64.50L811.52,64.26ZM769.90,59.74L772.10,59.98L771.71,60.43L769.52,60.19ZM774.29,60.21L776.48,60.45L776.10,60.90L773.90,60.67ZM776.48,60.45L778.67,60.69L778.29,61.14L776.10,60.90ZM778.67,60.69L780.86,60.93L780.48,61.38L778.29,61.14ZM783.05,61.17L785.24,61.40L784.86,61.86L782.67,61.62ZM787.43,61.64L789.62,61.88L789.24,62.33L787.05,62.10ZM798.38,62.83L800.57,63.07L800.19,63.52L798.00,63.29ZM807.14,63.79L809.33,64.02L808.95,64.48L806.76,64.24ZM813.71,64.50L815.90,64.74L815.52,65.19L813.33,64.95ZM769.52,60.19L771.71,60.43L771.33,60.88L769.14,60.64ZM773.90,60.67L776.10,60.90L775.71,61.36L773.52,61.12ZM776.10,60.90L778.29,61.14L777.90,61.60L775.71,61.36ZM778.29,61.14L780.48,61.38L780.10,61.83L777.90,61.60ZM782.67,61.62L784.86,61.86L784.48,62.31L782.29,62.07ZM789.24,62.33L791.43,62.57L791.05,63.02L788.86,62.79ZM791.43,62.57L793.62,62.81L793.24,63.26L791.05,63.02ZM793.62,62.81L795.81,63.05L795.43,63.50L793.24,63.26ZM795.81,63.05L798.00,63.29L797.62,63.74L795.43,63.50ZM802.38,63.76L804.57,64.00L804.19,64.45L802.00,64.21ZM804.57,64.00L806.76,64.24L806.38,64.69L804.19,64.45ZM806.76,64.24L808.95,64.48L808.57,64.93L806.38,64.69ZM813.33,64.95L815.52,65.19L815.14,65.64L812.95,65.40ZM769.14,60.64L771.33,60.88L770.95,61.33L768.76,61.10ZM773.52,61.12L775.71,61.36L775.33,61.81L773.14,61.57ZM775.71,61.36L777.90,61.60L777.52,62.05L775.33,61.81ZM777.90,61.60L780.10,61.83L779.71,62.29L777.52,62.05ZM782.29,62.07L784.48,62.31L784.10,62.76L781.90,62.52ZM786.67,62.55L788.86,62.79L788.48,63.24L786.29,63.00ZM791.05,63.02L793.24,63.26L792.86,63.71L790.67,63.48ZM795.43,63.50L797.62,63.74L797.24,64.19L795.05,63.95ZM797.62,63.74L799.81,63.98L799.43,64.43L797.24,64.19ZM802.00,64.21L804.19,64.45L803.81,64.90L801.62,64.67ZM804.19,64.45L806.38,64.69L806.00,65.14L803.81,64.90ZM806.38,64.69L808.57,64.93L808.19,65.38L806.00,65.14ZM810.76,65.17L812.95,65.40L812.57,65.86L810.38,65.62ZM812.95,65.40L815.14,65.64L814.76,66.10L812.57,65.86ZM768.76,61.10L770.95,61.33L770.57,61.79L768.38,61.55ZM781.90,62.52L784.10,62.76L783.71,63.21L781.52,62.98ZM790.67,63.48L792.86,63.71L792.48,64.17L790.29,63.93ZM792.86,63.71L795.05,63.95L794.67,64.40L792.48,64.17ZM797.24,64.19L799.43,64.43L799.05,64.88L796.86,64.64ZM803.81,64.90L806.00,65.14L805.62,65.60L803.43,65.36ZM806.00,65.14L808.19,65.38L807.81,65.83L805.62,65.60ZM810.38,65.62L812.57,65.86L812.19,66.31L810.00,66.07ZM812.57,65.86L814.76,66.10L814.38,66.55L812.19,66.31ZM768.38,61.55L770.57,61.79L770.19,62.24L768.00,62.00ZM770.57,61.79L772.76,62.02L772.38,62.48L770.19,62.24ZM772.76,62.02L774.95,62.26L774.57,62.71L772.38,62.48ZM774.95,62.26L777.14,62.50L776.76,62.95L774.57,62.71ZM777.14,62.50L779.33,62.74L778.95,63.19L776.76,62.95ZM779.33,62.74L781.52,62.98L781.14,63.43L778.95,63.19ZM781.52,62.98L783.71,63.21L783.33,63.67L781.14,63.43ZM783.71,63.21L785.90,63.45L785.52,63.90L783.33,63.67ZM792.48,64.17L794.67,64.40L794.29,64.86L792.10,64.62ZM803.43,65.36L805.62,65.60L805.24,66.05L803.05,65.81ZM805.62,65.60L807.81,65.83L807.43,66.29L805.24,66.05ZM807.81,65.83L810.00,66.07L809.62,66.52L807.43,66.29ZM810.00,66.07L812.19,66.31L811.81,66.76L809.62,66.52Z" fill="#e58a2f"/><path d="M829.70,67.70L851.70,70.40" stroke="#e58a2f" stroke-width="1.4" stroke-dasharray="4.5 4" opacity="0.65"/><polygon points="755.00,69.50 767.00,71.00 764.50,76.80 752.00,75.30" fill="#1f5aa8" opacity="0.7"/><text transform="matrix(0.9968,0.0797,-0.8902,0.4557,769.92,72.80)" font-size="3.38" fill="#1f5aa8" opacity="0.65" textLength="80.96" lengthAdjust="spacingAndGlyphs" stroke="#1f5aa8" stroke-width="0.3">архитектурно-художественное освещение</text><text transform="matrix(0.9961,0.0884,-0.8902,0.4557,766.22,76.55)" font-size="3.38" fill="#1f5aa8" opacity="0.65" textLength="82.02" lengthAdjust="spacingAndGlyphs" stroke="#1f5aa8" stroke-width="0.3">г. Ростов-на-Дону, ул. Вавилова 68</text><text transform="matrix(0.9966,0.0821,-0.8902,0.4557,764.42,79.25)" font-size="3.38" fill="#1f5aa8" opacity="0.65" textLength="101.14" lengthAdjust="spacingAndGlyphs" stroke="#1f5aa8" stroke-width="0.3">архитектурно-художественное освещение</text><polygon points="881.00,82.00 893.00,83.50 890.50,89.50 878.50,88.00" fill="#1f5aa8" opacity="0.7"/><text transform="matrix(0.9856,0.1691,-0.8902,0.4557,890.62,83.85)" font-size="3.38" fill="#1f5aa8" opacity="0.65" textLength="59.15" lengthAdjust="spacingAndGlyphs" stroke="#1f5aa8" stroke-width="0.3">г. Ростов-на-Дону, ул. Вавилова 68</text><text transform="matrix(0.9869,0.1613,-0.8902,0.4557,891.92,88.05)" font-size="3.38" fill="#1f5aa8" opacity="0.65" textLength="52.69" lengthAdjust="spacingAndGlyphs" stroke="#1f5aa8" stroke-width="0.3">г. Ростов-на-Дону, ул. Вавилова 68</text><text transform="matrix(0.9933,0.1157,-0.8902,0.4557,880.92,92.05)" font-size="3.38" fill="#1f5aa8" opacity="0.65" textLength="73.49" lengthAdjust="spacingAndGlyphs" stroke="#1f5aa8" stroke-width="0.3">г. Ростов-на-Дону, ул. Вавилова 68</text><path d="M706.00,100.50L708.57,100.79L708.24,101.24L705.67,100.95ZM708.57,100.79L711.14,101.07L710.81,101.52L708.24,101.24ZM711.14,101.07L713.71,101.36L713.38,101.81L710.81,101.52ZM713.71,101.36L716.29,101.64L715.95,102.10L713.38,101.81ZM716.29,101.64L718.86,101.93L718.52,102.38L715.95,102.10ZM718.86,101.93L721.43,102.21L721.10,102.67L718.52,102.38ZM721.43,102.21L724.00,102.50L723.67,102.95L721.10,102.67ZM724.00,102.50L726.57,102.79L726.24,103.24L723.67,102.95ZM734.29,103.64L736.86,103.93L736.52,104.38L733.95,104.10ZM736.86,103.93L739.43,104.21L739.10,104.67L736.52,104.38ZM739.43,104.21L742.00,104.50L741.67,104.95L739.10,104.67ZM742.00,104.50L744.57,104.79L744.24,105.24L741.67,104.95ZM744.57,104.79L747.14,105.07L746.81,105.52L744.24,105.24ZM747.14,105.07L749.71,105.36L749.38,105.81L746.81,105.52ZM749.71,105.36L752.29,105.64L751.95,106.10L749.38,105.81ZM752.29,105.64L754.86,105.93L754.52,106.38L751.95,106.10ZM754.86,105.93L757.43,106.21L757.10,106.67L754.52,106.38ZM757.43,106.21L760.00,106.50L759.67,106.95L757.10,106.67ZM705.67,100.95L708.24,101.24L707.90,101.69L705.33,101.40ZM721.10,102.67L723.67,102.95L723.33,103.40L720.76,103.12ZM723.67,102.95L726.24,103.24L725.90,103.69L723.33,103.40ZM726.24,103.24L728.81,103.52L728.48,103.98L725.90,103.69ZM733.95,104.10L736.52,104.38L736.19,104.83L733.62,104.55ZM741.67,104.95L744.24,105.24L743.90,105.69L741.33,105.40ZM757.10,106.67L759.67,106.95L759.33,107.40L756.76,107.12ZM705.33,101.40L707.90,101.69L707.57,102.14L705.00,101.86ZM710.48,101.98L713.05,102.26L712.71,102.71L710.14,102.43ZM713.05,102.26L715.62,102.55L715.29,103.00L712.71,102.71ZM715.62,102.55L718.19,102.83L717.86,103.29L715.29,103.00ZM720.76,103.12L723.33,103.40L723.00,103.86L720.43,103.57ZM725.90,103.69L728.48,103.98L728.14,104.43L725.57,104.14ZM728.48,103.98L731.05,104.26L730.71,104.71L728.14,104.43ZM733.62,104.55L736.19,104.83L735.86,105.29L733.29,105.00ZM736.19,104.83L738.76,105.12L738.43,105.57L735.86,105.29ZM738.76,105.12L741.33,105.40L741.00,105.86L738.43,105.57ZM741.33,105.40L743.90,105.69L743.57,106.14L741.00,105.86ZM746.48,105.98L749.05,106.26L748.71,106.71L746.14,106.43ZM749.05,106.26L751.62,106.55L751.29,107.00L748.71,106.71ZM751.62,106.55L754.19,106.83L753.86,107.29L751.29,107.00ZM756.76,107.12L759.33,107.40L759.00,107.86L756.43,107.57ZM705.00,101.86L707.57,102.14L707.24,102.60L704.67,102.31ZM710.14,102.43L712.71,102.71L712.38,103.17L709.81,102.88ZM712.71,102.71L715.29,103.00L714.95,103.45L712.38,103.17ZM715.29,103.00L717.86,103.29L717.52,103.74L714.95,103.45ZM720.43,103.57L723.00,103.86L722.67,104.31L720.10,104.02ZM723.00,103.86L725.57,104.14L725.24,104.60L722.67,104.31ZM733.29,105.00L735.86,105.29L735.52,105.74L732.95,105.45ZM735.86,105.29L738.43,105.57L738.10,106.02L735.52,105.74ZM741.00,105.86L743.57,106.14L743.24,106.60L740.67,106.31ZM746.14,106.43L748.71,106.71L748.38,107.17L745.81,106.88ZM748.71,106.71L751.29,107.00L750.95,107.45L748.38,107.17ZM751.29,107.00L753.86,107.29L753.52,107.74L750.95,107.45ZM756.43,107.57L759.00,107.86L758.67,108.31L756.10,108.02ZM704.67,102.31L707.24,102.60L706.90,103.05L704.33,102.76ZM709.81,102.88L712.38,103.17L712.05,103.62L709.48,103.33ZM712.38,103.17L714.95,103.45L714.62,103.90L712.05,103.62ZM714.95,103.45L717.52,103.74L717.19,104.19L714.62,103.90ZM720.10,104.02L722.67,104.31L722.33,104.76L719.76,104.48ZM722.67,104.31L725.24,104.60L724.90,105.05L722.33,104.76ZM725.24,104.60L727.81,104.88L727.48,105.33L724.90,105.05ZM727.81,104.88L730.38,105.17L730.05,105.62L727.48,105.33ZM730.38,105.17L732.95,105.45L732.62,105.90L730.05,105.62ZM732.95,105.45L735.52,105.74L735.19,106.19L732.62,105.90ZM740.67,106.31L743.24,106.60L742.90,107.05L740.33,106.76ZM745.81,106.88L748.38,107.17L748.05,107.62L745.48,107.33ZM748.38,107.17L750.95,107.45L750.62,107.90L748.05,107.62ZM750.95,107.45L753.52,107.74L753.19,108.19L750.62,107.90ZM756.10,108.02L758.67,108.31L758.33,108.76L755.76,108.48ZM704.33,102.76L706.90,103.05L706.57,103.50L704.00,103.21ZM719.76,104.48L722.33,104.76L722.00,105.21L719.43,104.93ZM724.90,105.05L727.48,105.33L727.14,105.79L724.57,105.50ZM737.76,106.48L740.33,106.76L740.00,107.21L737.43,106.93ZM740.33,106.76L742.90,107.05L742.57,107.50L740.00,107.21ZM755.76,108.48L758.33,108.76L758.00,109.21L755.43,108.93ZM704.00,103.21L706.57,103.50L706.24,103.95L703.67,103.67ZM706.57,103.50L709.14,103.79L708.81,104.24L706.24,103.95ZM709.14,103.79L711.71,104.07L711.38,104.52L708.81,104.24ZM711.71,104.07L714.29,104.36L713.95,104.81L711.38,104.52ZM714.29,104.36L716.86,104.64L716.52,105.10L713.95,104.81ZM716.86,104.64L719.43,104.93L719.10,105.38L716.52,105.10ZM719.43,104.93L722.00,105.21L721.67,105.67L719.10,105.38ZM722.00,105.21L724.57,105.50L724.24,105.95L721.67,105.67ZM724.57,105.50L727.14,105.79L726.81,106.24L724.24,105.95ZM734.86,106.64L737.43,106.93L737.10,107.38L734.52,107.10ZM737.43,106.93L740.00,107.21L739.67,107.67L737.10,107.38ZM740.00,107.21L742.57,107.50L742.24,107.95L739.67,107.67ZM742.57,107.50L745.14,107.79L744.81,108.24L742.24,107.95ZM745.14,107.79L747.71,108.07L747.38,108.52L744.81,108.24ZM747.71,108.07L750.29,108.36L749.95,108.81L747.38,108.52ZM750.29,108.36L752.86,108.64L752.52,109.10L749.95,108.81ZM752.86,108.64L755.43,108.93L755.10,109.38L752.52,109.10ZM755.43,108.93L758.00,109.21L757.67,109.67L755.10,109.38ZM711.38,104.52L713.95,104.81L713.62,105.26L711.05,104.98ZM716.52,105.10L719.10,105.38L718.76,105.83L716.19,105.55ZM719.10,105.38L721.67,105.67L721.33,106.12L718.76,105.83ZM726.81,106.24L729.38,106.52L729.05,106.98L726.48,106.69ZM737.10,107.38L739.67,107.67L739.33,108.12L736.76,107.83ZM742.24,107.95L744.81,108.24L744.48,108.69L741.90,108.40ZM747.38,108.52L749.95,108.81L749.62,109.26L747.05,108.98ZM703.33,104.12L705.90,104.40L705.57,104.86L703.00,104.57ZM713.62,105.26L716.19,105.55L715.86,106.00L713.29,105.71ZM734.19,107.55L736.76,107.83L736.43,108.29L733.86,108.00ZM741.90,108.40L744.48,108.69L744.14,109.14L741.57,108.86ZM752.19,109.55L754.76,109.83L754.43,110.29L751.86,110.00ZM708.14,105.14L710.71,105.43L710.38,105.88L707.81,105.60ZM721.00,106.57L723.57,106.86L723.24,107.31L720.67,107.02ZM723.57,106.86L726.14,107.14L725.81,107.60L723.24,107.31ZM726.14,107.14L728.71,107.43L728.38,107.88L725.81,107.60ZM731.29,107.71L733.86,108.00L733.52,108.45L730.95,108.17ZM739.00,108.57L741.57,108.86L741.24,109.31L738.67,109.02ZM741.57,108.86L744.14,109.14L743.81,109.60L741.24,109.31ZM744.14,109.14L746.71,109.43L746.38,109.88L743.81,109.60ZM746.71,109.43L749.29,109.71L748.95,110.17L746.38,109.88ZM749.29,109.71L751.86,110.00L751.52,110.45L748.95,110.17ZM751.86,110.00L754.43,110.29L754.10,110.74L751.52,110.45ZM754.43,110.29L757.00,110.57L756.67,111.02L754.10,110.74ZM702.67,105.02L705.24,105.31L704.90,105.76L702.33,105.48ZM705.24,105.31L707.81,105.60L707.48,106.05L704.90,105.76ZM707.81,105.60L710.38,105.88L710.05,106.33L707.48,106.05ZM710.38,105.88L712.95,106.17L712.62,106.62L710.05,106.33ZM718.10,106.74L720.67,107.02L720.33,107.48L717.76,107.19ZM723.24,107.31L725.81,107.60L725.48,108.05L722.90,107.76ZM725.81,107.60L728.38,107.88L728.05,108.33L725.48,108.05ZM728.38,107.88L730.95,108.17L730.62,108.62L728.05,108.33ZM730.95,108.17L733.52,108.45L733.19,108.90L730.62,108.62ZM733.52,108.45L736.10,108.74L735.76,109.19L733.19,108.90ZM738.67,109.02L741.24,109.31L740.90,109.76L738.33,109.48ZM741.24,109.31L743.81,109.60L743.48,110.05L740.90,109.76ZM746.38,109.88L748.95,110.17L748.62,110.62L746.05,110.33ZM751.52,110.45L754.10,110.74L753.76,111.19L751.19,110.90ZM707.48,106.05L710.05,106.33L709.71,106.79L707.14,106.50ZM715.19,106.90L717.76,107.19L717.43,107.64L714.86,107.36ZM717.76,107.19L720.33,107.48L720.00,107.93L717.43,107.64ZM733.19,108.90L735.76,109.19L735.43,109.64L732.86,109.36ZM738.33,109.48L740.90,109.76L740.57,110.21L738.00,109.93ZM740.90,109.76L743.48,110.05L743.14,110.50L740.57,110.21ZM748.62,110.62L751.19,110.90L750.86,111.36L748.29,111.07ZM702.00,105.93L704.57,106.21L704.24,106.67L701.67,106.38ZM704.57,106.21L707.14,106.50L706.81,106.95L704.24,106.67ZM707.14,106.50L709.71,106.79L709.38,107.24L706.81,106.95ZM709.71,106.79L712.29,107.07L711.95,107.52L709.38,107.24ZM714.86,107.36L717.43,107.64L717.10,108.10L714.52,107.81ZM725.14,108.50L727.71,108.79L727.38,109.24L724.81,108.95ZM730.29,109.07L732.86,109.36L732.52,109.81L729.95,109.52ZM732.86,109.36L735.43,109.64L735.10,110.10L732.52,109.81ZM735.43,109.64L738.00,109.93L737.67,110.38L735.10,110.10ZM740.57,110.21L743.14,110.50L742.81,110.95L740.24,110.67ZM743.14,110.50L745.71,110.79L745.38,111.24L742.81,110.95ZM745.71,110.79L748.29,111.07L747.95,111.52L745.38,111.24ZM748.29,111.07L750.86,111.36L750.52,111.81L747.95,111.52ZM753.43,111.64L756.00,111.93L755.67,112.38L753.10,112.10ZM701.67,106.38L704.24,106.67L703.90,107.12L701.33,106.83ZM709.38,107.24L711.95,107.52L711.62,107.98L709.05,107.69ZM714.52,107.81L717.10,108.10L716.76,108.55L714.19,108.26ZM722.24,108.67L724.81,108.95L724.48,109.40L721.90,109.12ZM724.81,108.95L727.38,109.24L727.05,109.69L724.48,109.40ZM727.38,109.24L729.95,109.52L729.62,109.98L727.05,109.69ZM732.52,109.81L735.10,110.10L734.76,110.55L732.19,110.26ZM737.67,110.38L740.24,110.67L739.90,111.12L737.33,110.83ZM747.95,111.52L750.52,111.81L750.19,112.26L747.62,111.98ZM753.10,112.10L755.67,112.38L755.33,112.83L752.76,112.55ZM701.33,106.83L703.90,107.12L703.57,107.57L701.00,107.29ZM703.90,107.12L706.48,107.40L706.14,107.86L703.57,107.57ZM706.48,107.40L709.05,107.69L708.71,108.14L706.14,107.86ZM709.05,107.69L711.62,107.98L711.29,108.43L708.71,108.14ZM711.62,107.98L714.19,108.26L713.86,108.71L711.29,108.43ZM714.19,108.26L716.76,108.55L716.43,109.00L713.86,108.71ZM716.76,108.55L719.33,108.83L719.00,109.29L716.43,109.00ZM721.90,109.12L724.48,109.40L724.14,109.86L721.57,109.57ZM724.48,109.40L727.05,109.69L726.71,110.14L724.14,109.86ZM727.05,109.69L729.62,109.98L729.29,110.43L726.71,110.14ZM737.33,110.83L739.90,111.12L739.57,111.57L737.00,111.29ZM742.48,111.40L745.05,111.69L744.71,112.14L742.14,111.86ZM752.76,112.55L755.33,112.83L755.00,113.29L752.43,113.00ZM701.00,107.29L703.57,107.57L703.24,108.02L700.67,107.74ZM716.43,109.00L719.00,109.29L718.67,109.74L716.10,109.45ZM719.00,109.29L721.57,109.57L721.24,110.02L718.67,109.74ZM726.71,110.14L729.29,110.43L728.95,110.88L726.38,110.60ZM729.29,110.43L731.86,110.71L731.52,111.17L728.95,110.88ZM737.00,111.29L739.57,111.57L739.24,112.02L736.67,111.74ZM739.57,111.57L742.14,111.86L741.81,112.31L739.24,112.02ZM744.71,112.14L747.29,112.43L746.95,112.88L744.38,112.60ZM747.29,112.43L749.86,112.71L749.52,113.17L746.95,112.88ZM749.86,112.71L752.43,113.00L752.10,113.45L749.52,113.17ZM700.67,107.74L703.24,108.02L702.90,108.48L700.33,108.19ZM705.81,108.31L708.38,108.60L708.05,109.05L705.48,108.76ZM708.38,108.60L710.95,108.88L710.62,109.33L708.05,109.05ZM710.95,108.88L713.52,109.17L713.19,109.62L710.62,109.33ZM716.10,109.45L718.67,109.74L718.33,110.19L715.76,109.90ZM728.95,110.88L731.52,111.17L731.19,111.62L728.62,111.33ZM734.10,111.45L736.67,111.74L736.33,112.19L733.76,111.90ZM744.38,112.60L746.95,112.88L746.62,113.33L744.05,113.05ZM746.95,112.88L749.52,113.17L749.19,113.62L746.62,113.33ZM752.10,113.45L754.67,113.74L754.33,114.19L751.76,113.90ZM700.33,108.19L702.90,108.48L702.57,108.93L700.00,108.64ZM705.48,108.76L708.05,109.05L707.71,109.50L705.14,109.21ZM708.05,109.05L710.62,109.33L710.29,109.79L707.71,109.50ZM710.62,109.33L713.19,109.62L712.86,110.07L710.29,109.79ZM715.76,109.90L718.33,110.19L718.00,110.64L715.43,110.36ZM718.33,110.19L720.90,110.48L720.57,110.93L718.00,110.64ZM720.90,110.48L723.48,110.76L723.14,111.21L720.57,110.93ZM731.19,111.62L733.76,111.90L733.43,112.36L730.86,112.07ZM733.76,111.90L736.33,112.19L736.00,112.64L733.43,112.36ZM736.33,112.19L738.90,112.48L738.57,112.93L736.00,112.64ZM741.48,112.76L744.05,113.05L743.71,113.50L741.14,113.21ZM746.62,113.33L749.19,113.62L748.86,114.07L746.29,113.79ZM749.19,113.62L751.76,113.90L751.43,114.36L748.86,114.07ZM700.00,108.64L702.57,108.93L702.24,109.38L699.67,109.10ZM705.14,109.21L707.71,109.50L707.38,109.95L704.81,109.67ZM707.71,109.50L710.29,109.79L709.95,110.24L707.38,109.95ZM710.29,109.79L712.86,110.07L712.52,110.52L709.95,110.24ZM715.43,110.36L718.00,110.64L717.67,111.10L715.10,110.81ZM720.57,110.93L723.14,111.21L722.81,111.67L720.24,111.38ZM728.29,111.79L730.86,112.07L730.52,112.52L727.95,112.24ZM730.86,112.07L733.43,112.36L733.10,112.81L730.52,112.52ZM733.43,112.36L736.00,112.64L735.67,113.10L733.10,112.81ZM738.57,112.93L741.14,113.21L740.81,113.67L738.24,113.38ZM746.29,113.79L748.86,114.07L748.52,114.52L745.95,114.24ZM751.43,114.36L754.00,114.64L753.67,115.10L751.10,114.81ZM699.67,109.10L702.24,109.38L701.90,109.83L699.33,109.55ZM715.10,110.81L717.67,111.10L717.33,111.55L714.76,111.26ZM717.67,111.10L720.24,111.38L719.90,111.83L717.33,111.55ZM722.81,111.67L725.38,111.95L725.05,112.40L722.48,112.12ZM725.38,111.95L727.95,112.24L727.62,112.69L725.05,112.40ZM733.10,112.81L735.67,113.10L735.33,113.55L732.76,113.26ZM735.67,113.10L738.24,113.38L737.90,113.83L735.33,113.55ZM745.95,114.24L748.52,114.52L748.19,114.98L745.62,114.69ZM751.10,114.81L753.67,115.10L753.33,115.55L750.76,115.26ZM699.33,109.55L701.90,109.83L701.57,110.29L699.00,110.00ZM701.90,109.83L704.48,110.12L704.14,110.57L701.57,110.29ZM704.48,110.12L707.05,110.40L706.71,110.86L704.14,110.57ZM707.05,110.40L709.62,110.69L709.29,111.14L706.71,110.86ZM709.62,110.69L712.19,110.98L711.86,111.43L709.29,111.14ZM712.19,110.98L714.76,111.26L714.43,111.71L711.86,111.43ZM714.76,111.26L717.33,111.55L717.00,112.00L714.43,111.71ZM722.48,112.12L725.05,112.40L724.71,112.86L722.14,112.57ZM737.90,113.83L740.48,114.12L740.14,114.57L737.57,114.29ZM740.48,114.12L743.05,114.40L742.71,114.86L740.14,114.57ZM743.05,114.40L745.62,114.69L745.29,115.14L742.71,114.86ZM745.62,114.69L748.19,114.98L747.86,115.43L745.29,115.14ZM748.19,114.98L750.76,115.26L750.43,115.71L747.86,115.43Z" fill="#e58a2f"/><polygon points="724.00,95.00 746.00,97.50 745.00,99.50 723.00,97.00" fill="#e58a2f"/><path d="M749.00,98.80L970.00,120.50" stroke="#e58a2f" stroke-width="1.4" stroke-dasharray="4.5 4" opacity="0.65"/><path d="M772.00,108.50L836.00,113.50" stroke="#0f4c9c" stroke-width="2.9" stroke-dasharray="5 0.8 4 0.8 6 0.8 3 0.8" opacity="0.9"/><text transform="matrix(0.9964,0.0847,-0.8902,0.4557,773.62,116.55)" font-size="3.38" fill="#1f5aa8" opacity="0.65" textLength="79.08" lengthAdjust="spacingAndGlyphs" stroke="#1f5aa8" stroke-width="0.3">архитектурно-художественное освещение</text><text transform="matrix(0.9963,0.0856,-0.8902,0.4557,774.92,120.05)" font-size="3.38" fill="#1f5aa8" opacity="0.65" textLength="64.24" lengthAdjust="spacingAndGlyphs" stroke="#1f5aa8" stroke-width="0.3">г. Ростов-на-Дону, ул. Вавилова 68</text><text transform="matrix(0.9961,0.0885,-0.8902,0.4557,688.92,120.55)" font-size="3.38" fill="#1f5aa8" opacity="0.65" textLength="90.35" lengthAdjust="spacingAndGlyphs" stroke="#1f5aa8" stroke-width="0.3">архитектурно-художественное освещение</text><text transform="matrix(0.9963,0.0854,-0.8902,0.4557,698.92,124.55)" font-size="3.38" fill="#1f5aa8" opacity="0.65" textLength="70.26" lengthAdjust="spacingAndGlyphs" stroke="#1f5aa8" stroke-width="0.3">г. Ростов-на-Дону, ул. Вавилова 68</text><path d="M761,114 l9,1" stroke="#e58a2f" stroke-width="3"/><polygon points="886.00,121.00 969.00,128.50 964.00,137.00 881.00,129.50" fill="none" stroke="#c9a47e" stroke-width="1" stroke-dasharray="2.5 1.5" opacity="0.8"/><path d="M903.00,123.50L906.50,123.81L906.17,125.98L902.67,125.67ZM906.50,123.81L910.00,124.12L909.67,126.29L906.17,125.98ZM910.00,124.12L913.50,124.44L913.17,126.60L909.67,126.29ZM917.00,124.75L920.50,125.06L920.17,127.23L916.67,126.92ZM920.50,125.06L924.00,125.38L923.67,127.54L920.17,127.23ZM927.50,125.69L931.00,126.00L930.67,128.17L927.17,127.85ZM931.00,126.00L934.50,126.31L934.17,128.48L930.67,128.17ZM938.00,126.62L941.50,126.94L941.17,129.10L937.67,128.79ZM941.50,126.94L945.00,127.25L944.67,129.42L941.17,129.10ZM948.50,127.56L952.00,127.88L951.67,130.04L948.17,129.73ZM955.50,128.19L959.00,128.50L958.67,130.67L955.17,130.35ZM902.67,125.67L906.17,125.98L905.83,128.15L902.33,127.83ZM906.17,125.98L909.67,126.29L909.33,128.46L905.83,128.15ZM909.67,126.29L913.17,126.60L912.83,128.77L909.33,128.46ZM916.67,126.92L920.17,127.23L919.83,129.40L916.33,129.08ZM923.67,127.54L927.17,127.85L926.83,130.02L923.33,129.71ZM930.67,128.17L934.17,128.48L933.83,130.65L930.33,130.33ZM934.17,128.48L937.67,128.79L937.33,130.96L933.83,130.65ZM944.67,129.42L948.17,129.73L947.83,131.90L944.33,131.58ZM948.17,129.73L951.67,130.04L951.33,132.21L947.83,131.90ZM951.67,130.04L955.17,130.35L954.83,132.52L951.33,132.21ZM955.17,130.35L958.67,130.67L958.33,132.83L954.83,132.52ZM902.33,127.83L905.83,128.15L905.50,130.31L902.00,130.00ZM909.33,128.46L912.83,128.77L912.50,130.94L909.00,130.62ZM919.83,129.40L923.33,129.71L923.00,131.88L919.50,131.56ZM923.33,129.71L926.83,130.02L926.50,132.19L923.00,131.88ZM926.83,130.02L930.33,130.33L930.00,132.50L926.50,132.19ZM930.33,130.33L933.83,130.65L933.50,132.81L930.00,132.50ZM933.83,130.65L937.33,130.96L937.00,133.12L933.50,132.81ZM940.83,131.27L944.33,131.58L944.00,133.75L940.50,133.44ZM944.33,131.58L947.83,131.90L947.50,134.06L944.00,133.75ZM947.83,131.90L951.33,132.21L951.00,134.38L947.50,134.06ZM951.33,132.21L954.83,132.52L954.50,134.69L951.00,134.38Z" fill="#eaa766"/><text transform="matrix(0.9957,0.0929,-0.8902,0.4557,803.92,134.55)" font-size="3.38" fill="#1f5aa8" opacity="0.65" textLength="75.33" lengthAdjust="spacingAndGlyphs" stroke="#1f5aa8" stroke-width="0.3">архитектурно-художественное освещение</text><text transform="matrix(0.9964,0.0842,-0.8902,0.4557,804.92,138.55)" font-size="3.38" fill="#1f5aa8" opacity="0.65" textLength="142.51" lengthAdjust="spacingAndGlyphs" stroke="#1f5aa8" stroke-width="0.3">г. Ростов-на-Дону, ул. Вавилова 68</text><text transform="matrix(0.9959,0.0905,-0.8902,0.4557,810.92,142.55)" font-size="3.38" fill="#1f5aa8" opacity="0.65" textLength="88.36" lengthAdjust="spacingAndGlyphs" stroke="#1f5aa8" stroke-width="0.3">архитектурно-художественное освещение</text><path d="M821.50,161.10L915.00,171.20" stroke="#e58a2f" stroke-width="1.4" stroke-dasharray="4.5 4" opacity="0.65"/></g><g id="et"><polygon points="839.90,152.90 893.30,118.60 905.90,145.70 852.50,180.00" fill="#fff" fill-opacity="0.1" stroke="#c9a47e" stroke-width="0.9" stroke-dasharray="2 1.2" stroke-linejoin="round"/><text transform="matrix(1.1033,-0.7339,0.4235,1.1509,852.50,162.00)" font-size="9.5" font-weight="bold" fill="#e58a2f" stroke="#e58a2f" stroke-width="0.7" textLength="36" lengthAdjust="spacingAndGlyphs" opacity="1">OSRAM</text><path d="M856.00,168.30L895.00,141.20" stroke="#8d96a6" stroke-width="1.1" stroke-dasharray="1.5 0.5" opacity="0.9"/><rect x="823.70" y="218.70" width="4.6" height="4.6" fill="#1f5aa8" opacity="0.85"/><rect x="826.90" y="226.70" width="4.6" height="4.6" fill="#1f5aa8" opacity="0.85"/><rect x="830.10" y="234.70" width="4.6" height="4.6" fill="#1f5aa8" opacity="0.85"/><text transform="matrix(0.8132,-0.5820,0.3453,0.9385,834.23,221.88)" font-size="5.85" fill="#1f5aa8" opacity="0.82" textLength="46.73" lengthAdjust="spacingAndGlyphs" stroke="#1f5aa8" stroke-width="0.3">+7 (863) 298-73-37</text><text transform="matrix(0.8230,-0.5680,0.3453,0.9385,837.73,228.18)" font-size="5.85" fill="#1f5aa8" opacity="0.82" textLength="103.52" lengthAdjust="spacingAndGlyphs" stroke="#1f5aa8" stroke-width="0.3">архитектурно-художественное освещение</text><text transform="matrix(0.8278,-0.5610,0.3453,0.9385,840.73,234.58)" font-size="5.85" fill="#1f5aa8" opacity="0.82" textLength="83.96" lengthAdjust="spacingAndGlyphs" stroke="#1f5aa8" stroke-width="0.3">архитектурно-художественное освещение</text><rect x="946.70" y="134.20" width="4.6" height="4.6" fill="#1f5aa8" opacity="0.85"/><rect x="949.90" y="142.20" width="4.6" height="4.6" fill="#1f5aa8" opacity="0.85"/><rect x="953.10" y="150.20" width="4.6" height="4.6" fill="#1f5aa8" opacity="0.85"/><text transform="matrix(0.8730,-0.4877,0.3453,0.9385,955.53,134.08)" font-size="5.85" fill="#1f5aa8" opacity="0.82" textLength="58.65" lengthAdjust="spacingAndGlyphs" stroke="#1f5aa8" stroke-width="0.3">промышленное освещение</text><text transform="matrix(0.8761,-0.4821,0.3453,0.9385,960.93,142.18)" font-size="5.85" fill="#1f5aa8" opacity="0.82" textLength="52.28" lengthAdjust="spacingAndGlyphs" stroke="#1f5aa8" stroke-width="0.3">+7 (863) 298-73-37</text><text transform="matrix(0.8781,-0.4786,0.3453,0.9385,964.53,149.48)" font-size="5.85" fill="#1f5aa8" opacity="0.82" textLength="48.06" lengthAdjust="spacingAndGlyphs" stroke="#1f5aa8" stroke-width="0.3">торговое освещение</text><path d="M994,177.3L1006,179.3M995,196L1006,190" stroke="#e58a2f" stroke-width="3" stroke-linecap="round"/><text transform="matrix(0.9507,-0.3100,0.3453,0.9385,811.62,198.67)" font-size="4.95" fill="#1f5aa8" opacity="0.82" textLength="24.19" lengthAdjust="spacingAndGlyphs" stroke="#1f5aa8" stroke-width="0.3">www.tl-led.ru</text><text transform="matrix(0.9433,-0.3319,0.3453,0.9385,812.56,205.52)" font-size="4.50" fill="#1f5aa8" opacity="0.82" textLength="28.62" lengthAdjust="spacingAndGlyphs" stroke="#1f5aa8" stroke-width="0.3">фито освещение</text><text transform="matrix(0.9450,-0.3271,0.3453,0.9385,812.56,212.52)" font-size="4.50" fill="#1f5aa8" opacity="0.82" textLength="27.51" lengthAdjust="spacingAndGlyphs" stroke="#1f5aa8" stroke-width="0.3">LED технологии</text></g></defs>
<path d="M336,106.5H442M302.4,135.5V270" stroke="#8e8f92" stroke-width="2"/>
<circle cx="302.4" cy="106.4" r="23.1" fill="#97989b"/>
<path d="M290.5,106H315M302.6,93.5V120" stroke="#fff" stroke-width="5.5"/>
<polygon points="477.00,66.50 797.50,148.00 797.50,245.50 477.00,165.00" fill="#d4d5d7"/>
<polygon points="477.00,66.50 672.00,20.00 978.50,98.50 797.50,141.50 797.50,148.00" fill="#fff"/>
<polygon points="461.25,55.30 477.00,59.80 477.00,165.00 461.25,161.00" fill="#dadbdd"/>
<polygon points="461.25,55.30 655.00,10.00 672.00,14.30 477.00,59.80" fill="#fff"/>
<polygon points="477.00,59.80 672.00,14.30 672.00,20.00 477.00,66.50" fill="#b4b5b8"/>
<polygon points="797.50,141.50 991.30,96.30 1007.50,99.20 1007.50,101.20 812.50,145.50" fill="#fff"/>
<polygon points="797.50,141.50 812.50,145.50 812.50,249.50 797.50,245.50" fill="#dadbdd"/>
<polygon points="812.50,145.50 1007.50,101.20 1007.50,205.00 812.50,249.50" fill="#abacb0"/>
<clipPath id="cf0"><polygon points="461.25,55.30 477.00,59.80 477.00,66.50 797.50,148.00 797.50,141.50 812.50,145.50 812.50,249.50 461.25,161.00"/></clipPath>
<clipPath id="ct0"><polygon points="477.00,66.50 672.00,20.00 978.50,98.50 797.50,141.50 797.50,148.00"/></clipPath>
<clipPath id="ce0"><polygon points="812.50,145.50 1007.50,101.20 1007.50,205.00 812.50,249.50"/></clipPath>
<g clip-path="url(#cf0)"><use href="#ft" transform="translate(0.00,0.00)"/></g>
<g clip-path="url(#ct0)"><use href="#tt" transform="translate(0.00,0.00)"/><use href="#tt" transform="translate(-362.00,-93.50)"/></g>
<g clip-path="url(#ce0)"><use href="#et" transform="translate(0.00,0.00)"/></g>
<path d="M461.25,55.30L477.00,59.80 M477.00,59.80L672.00,14.30 M477.00,66.50L672.00,20.00 M477.00,59.80L477.00,165.00 M797.50,141.50L991.30,96.30 M797.50,141.50L812.50,145.50 M812.50,145.50L1007.50,101.20 M797.50,141.50L797.50,245.50 M812.50,145.50L812.50,249.50" stroke="#231f20" stroke-width="2.2" fill="none"/>
<path d="M477.00,66.50L797.50,148.00" stroke="#231f20" stroke-width="2.7" fill="none"/>
<path d="M461.25,57.90Q461.25,55.30 463.78,54.71L652.86,10.50Q655.00,10.00 657.13,10.54L670.06,13.81Q672.00,14.30 672.00,16.30L672.00,20.00L978.50,98.50L989.13,96.67Q991.30,96.30 993.47,96.69L1004.94,98.74Q1007.50,99.20 1007.50,101.80L1007.50,202.40Q1007.50,205.00 1004.97,205.58L813.67,249.23Q812.50,249.50 811.34,249.21L463.77,161.64Q461.25,161.00 461.25,158.40Z" fill="none" stroke="#231f20" stroke-width="4.6" stroke-linejoin="round"/>
<path d="M1013.30,100.00L1100.00,79.50 M1013.30,203.40L1100.00,182.60 M461.50,169.50L461.50,258.75 M812.80,259.30L812.80,348.20 M1006.00,214.00L1006.00,307.30" stroke="#8e8f92" stroke-width="2" fill="none"/>
<path d="M1044.4,120.3L1044.4,168.7" stroke="#97989b" stroke-width="2"/>
<polygon points="1044.40,100.30 1050.20,121.80 1038.60,121.80" fill="#97989b"/>
<polygon points="1044.40,188.70 1050.20,167.20 1038.60,167.20" fill="#97989b"/>
<path d="M487.5,213.75L783.7,289.1" stroke="#97989b" stroke-width="2"/>
<polygon points="469.50,209.25 492.00,209.05 489.00,220.05" fill="#97989b"/>
<polygon points="801.70,293.60 783.30,283.30 780.70,294.10" fill="#97989b"/>
<path d="M841.4,290.7L982.2,258.2" stroke="#97989b" stroke-width="2"/>
<polygon points="823.40,294.80 845.40,295.60 842.60,284.60" fill="#97989b"/>
<polygon points="1000.20,254.10 981.00,264.30 978.20,253.30" fill="#97989b"/>
<polygon points="27.00,316.00 797.50,510.50 797.50,608.00 27.00,414.50" fill="#d4d5d7"/>
<polygon points="27.00,316.00 222.00,269.50 978.50,461.00 797.50,504.00 797.50,510.50" fill="#fff"/>
<polygon points="11.25,304.80 27.00,309.30 27.00,414.50 11.25,410.50" fill="#dadbdd"/>
<polygon points="11.25,304.80 205.00,259.50 222.00,263.80 27.00,309.30" fill="#fff"/>
<polygon points="27.00,309.30 222.00,263.80 222.00,269.50 27.00,316.00" fill="#b4b5b8"/>
<polygon points="797.50,504.00 991.30,458.80 1007.50,461.70 1007.50,463.70 812.50,508.00" fill="#fff"/>
<polygon points="797.50,504.00 812.50,508.00 812.50,612.00 797.50,608.00" fill="#dadbdd"/>
<polygon points="812.50,508.00 1007.50,463.70 1007.50,567.50 812.50,612.00" fill="#abacb0"/>
<clipPath id="cf1"><polygon points="27.00,309.30 27.00,316.00 797.50,510.50 797.50,504.00 812.50,508.00 812.50,612.00 27.00,414.50"/></clipPath>
<text transform="matrix(0.8000,-0.6000,0.3453,0.9385,13.16,353.42)" font-size="4.50" fill="#1f5aa8" opacity="0.82" textLength="17.50" lengthAdjust="spacingAndGlyphs" stroke="#1f5aa8" stroke-width="0.3">АЛС освещение</text><text transform="matrix(0.8137,-0.5812,0.3453,0.9385,13.16,363.22)" font-size="4.50" fill="#1f5aa8" opacity="0.82" textLength="12.04" lengthAdjust="spacingAndGlyphs" stroke="#1f5aa8" stroke-width="0.3">www.tl-led.ru</text>
<clipPath id="ct1"><polygon points="27.00,316.00 222.00,269.50 978.50,461.00 797.50,504.00 797.50,510.50"/></clipPath>
<clipPath id="ce1"><polygon points="812.50,508.00 1007.50,463.70 1007.50,567.50 812.50,612.00"/></clipPath>
<g clip-path="url(#cf1)"><use href="#ft" transform="translate(-729.50,181.00)"/><use href="#ft" transform="translate(-365.50,270.00)"/><use href="#ft" transform="translate(0.50,361.50)"/></g>
<g clip-path="url(#ct1)"><use href="#tt" transform="translate(-725.00,169.50)"/><use href="#tt" transform="translate(-362.00,260.50)"/><use href="#tt" transform="translate(1.00,351.50)"/></g>
<g clip-path="url(#ce1)"><use href="#et" transform="translate(0.00,362.50)"/></g>
<path d="M11.25,304.80L27.00,309.30 M27.00,309.30L222.00,263.80 M27.00,316.00L222.00,269.50 M27.00,309.30L27.00,414.50 M797.50,504.00L991.30,458.80 M797.50,504.00L812.50,508.00 M812.50,508.00L1007.50,463.70 M797.50,504.00L797.50,608.00 M812.50,508.00L812.50,612.00" stroke="#231f20" stroke-width="2.2" fill="none"/>
<path d="M27.00,316.00L797.50,510.50" stroke="#231f20" stroke-width="2.7" fill="none"/>
<path d="M11.25,307.40Q11.25,304.80 13.78,304.21L202.86,260.00Q205.00,259.50 207.13,260.04L220.06,263.31Q222.00,263.80 222.00,265.80L222.00,269.50L978.50,461.00L989.13,459.17Q991.30,458.80 993.47,459.19L1004.94,461.24Q1007.50,461.70 1007.50,464.30L1007.50,564.90Q1007.50,567.50 1004.97,568.08L813.67,611.73Q812.50,612.00 811.34,611.71L13.77,411.13Q11.25,410.50 11.25,407.90Z" fill="none" stroke="#231f20" stroke-width="4.6" stroke-linejoin="round"/>
<path d="M1013.30,462.50L1100.00,442.00 M1013.30,565.90L1100.00,545.10 M11.50,420.80L11.50,510.05 M812.80,621.80L812.80,710.70 M1006.00,576.50L1006.00,669.80" stroke="#8e8f92" stroke-width="2" fill="none"/>
<path d="M1044.4,482.8L1044.4,531.2" stroke="#97989b" stroke-width="2"/>
<polygon points="1044.40,462.80 1050.20,484.30 1038.60,484.30" fill="#97989b"/>
<polygon points="1044.40,551.20 1050.20,529.70 1038.60,529.70" fill="#97989b"/>
<path d="M37.5,463.25L783.7,651.6" stroke="#97989b" stroke-width="2"/>
<polygon points="19.50,458.75 42.00,458.55 39.00,469.55" fill="#97989b"/>
<polygon points="801.70,656.10 783.30,645.80 780.70,656.60" fill="#97989b"/>
<path d="M841.4,653.1999999999999L982.2,620.7" stroke="#97989b" stroke-width="2"/>
<polygon points="823.40,657.30 845.40,658.10 842.60,647.10" fill="#97989b"/>
<polygon points="1000.20,616.60 981.00,626.80 978.20,615.80" fill="#97989b"/>
<g transform="translate(1061.90,158.75) skewY(-13)"><text font-size="52.57" textLength="125.86" lengthAdjust="spacingAndGlyphs" fill="#6d6e71" stroke="#6d6e71" stroke-width="1">80 мм</text></g>
<g transform="translate(1061.90,521.10) skewY(-13)"><text font-size="52.64" textLength="125.86" lengthAdjust="spacingAndGlyphs" fill="#6d6e71" stroke="#6d6e71" stroke-width="1">80 мм</text></g>
<g transform="translate(556.50,300.35) skewY(14)"><text font-size="58.04" textLength="149.30" lengthAdjust="spacingAndGlyphs" fill="#6d6e71" stroke="#6d6e71" stroke-width="1">3 0 мм</text><polygon points="41.24,0.00 41.24,-39.93 38.50,-39.93 28.29,-35.28 28.29,-30.89 37.29,-34.72 37.29,0.00" fill="#6d6e71" stroke="#6d6e71" stroke-width="1" stroke-linejoin="round"/></g>
<g transform="translate(836.10,351.50) skewY(-12.75)"><text font-size="55.04" textLength="145.35" lengthAdjust="spacingAndGlyphs" fill="#6d6e71" stroke="#6d6e71" stroke-width="1"> 65 мм</text><polygon points="15.81,0.00 15.81,-37.86 13.14,-37.86 3.21,-33.46 3.21,-29.29 11.97,-32.92 11.97,0.00" fill="#6d6e71" stroke="#6d6e71" stroke-width="1" stroke-linejoin="round"/></g>
<g transform="translate(280.00,593.62) skewY(14)"><text font-size="57.30" textLength="149.22" lengthAdjust="spacingAndGlyphs" fill="#6d6e71" stroke="#6d6e71" stroke-width="1">7 5 мм</text><polygon points="41.22,0.00 41.22,-39.42 38.48,-39.42 28.28,-34.84 28.28,-30.50 37.27,-34.28 37.27,0.00" fill="#6d6e71" stroke="#6d6e71" stroke-width="1" stroke-linejoin="round"/></g>
<g transform="translate(836.10,713.05) skewY(-12.75)"><text font-size="55.14" textLength="144.50" lengthAdjust="spacingAndGlyphs" fill="#6d6e71" stroke="#6d6e71" stroke-width="1"> 70 мм</text><polygon points="15.72,0.00 15.72,-37.94 13.06,-37.94 3.19,-33.52 3.19,-29.35 11.90,-32.98 11.90,0.00" fill="#6d6e71" stroke="#6d6e71" stroke-width="1" stroke-linejoin="round"/></g>
<g transform="translate(276.20,837.50)"><text font-size="61.31" textLength="159.67" lengthAdjust="spacingAndGlyphs" fill="#6d6e71" stroke="#6d6e71" stroke-width="0.7">2 места</text></g>
<g transform="translate(587.70,837.40)"><text font-size="58.59" textLength="116.79" lengthAdjust="spacingAndGlyphs" fill="#6d6e71" stroke="#6d6e71" stroke-width="0.7">5,8 кг</text></g>
<g transform="translate(854.40,837.30)"><text font-size="60.60" textLength="172.39" lengthAdjust="spacingAndGlyphs" fill="#6d6e71" stroke="#6d6e71" stroke-width="0.7">0,0 4 м³</text><polygon points="79.44,0.00 79.44,-41.69 76.67,-41.69 66.37,-36.84 66.37,-32.25 75.46,-36.25 75.46,0.00" fill="#6d6e71" stroke="#6d6e71" stroke-width="0.7" stroke-linejoin="round"/></g>
<g fill="#0c4da2" stroke="#0c4da2" stroke-width="0.8" stroke-linejoin="round">
<polygon points="227.00,777.50 241.00,783.25 227.00,789.00 213.00,783.25"/><polygon points="211.50,786.50 225.00,791.50 225.00,809.00 211.50,803.50"/><polygon points="229.00,791.50 242.50,786.50 242.50,803.50 229.00,809.00"/>
<polygon points="209.00,806.25 223.00,812.00 209.00,817.75 195.00,812.00"/><polygon points="193.50,815.25 207.00,820.25 207.00,837.75 193.50,832.25"/>
<polygon points="245.00,806.25 259.00,812.00 245.00,817.75 231.00,812.00"/><polygon points="247.00,820.25 260.50,815.25 260.50,832.25 247.00,837.75"/>
<polygon points="227.00,813.75 241.00,819.50 227.00,825.25 213.00,819.50"/><polygon points="211.50,822.75 225.00,827.75 225.00,845.25 211.50,839.75"/><polygon points="229.00,827.75 242.50,822.75 242.50,839.75 229.00,845.25"/>
</g>
<circle cx="545.5" cy="790.4" r="9.8" fill="none" stroke="#0c4da2" stroke-width="6.2"/>
<path d="M538,799.5 Q545.5,803 553,799.5 L556,802 L538,802 Z" fill="#0c4da2"/>
<path d="M526,801.7 L565,801.7 Q567.5,801.7 568,804 L576.3,836 Q577,839.5 573.5,840.2 Q545.5,846.5 518,840.2 Q514.5,839.5 515.3,836 L523.5,804 Q524,801.7 526,801.7 Z" fill="#0c4da2"/>
<text x="530.2" y="831.3" font-size="32" font-weight="bold" fill="#fff" stroke="#fff" stroke-width="1" textLength="31.8" lengthAdjust="spacingAndGlyphs">kg</text>
<g fill="#0c4da2" stroke="#0c4da2" stroke-width="1.2" stroke-linejoin="round">
<polygon points="810.60,789.60 835.90,799.90 810.60,810.10 785.30,799.90"/>
<polygon points="783.70,804.30 808.10,814.60 808.10,845.00 783.70,834.00"/>
<polygon points="812.70,814.60 837.50,804.30 837.50,834.00 812.70,845.00"/>
</g>
</svg>
</body></html>
